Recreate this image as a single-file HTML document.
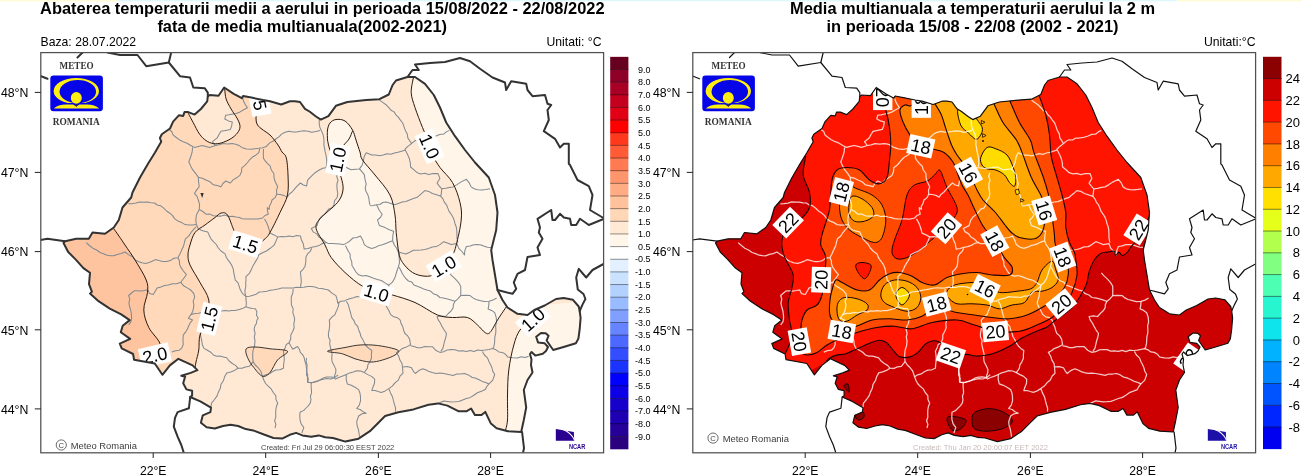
<!DOCTYPE html>
<html><head><meta charset="utf-8"><title>Meteo Romania</title>
<style>
html,body{margin:0;padding:0;background:#fff;}
body{width:1302px;height:476px;overflow:hidden;position:relative;font-family:"Liberation Sans",sans-serif;}
svg{position:absolute;left:0;top:0;will-change:transform;}
text{font-family:"Liberation Sans",sans-serif;}
.ser{font-family:"Liberation Serif",serif;font-weight:bold;}
</style></head><body>
<svg width="1302" height="476" viewBox="0 0 1302 476">
<defs>
<clipPath id="ro"><path d="M207.8,96.3 L209.7,95.0 L218.5,95.7 L224.2,87.5 L233.7,93.8 L241.9,98.2 L243.1,96.0 L251.3,97.6 L263.0,100.0 L270.0,101.2 L281.2,104.5 L290.0,101.2 L295.0,101.2 L300.0,102.0 L305.0,108.8 L309.5,111.5 L316.0,116.5 L320.8,119.6 L328.4,116.2 L335.9,105.8 L347.3,102.0 L366.2,100.1 L379.4,99.2 L388.8,94.5 L392.6,85.0 L396.0,80.5 L407.5,77.0 L415.0,77.0 L425.0,83.8 L433.8,95.0 L440.0,107.5 L446.2,122.5 L455.0,136.2 L465.0,150.0 L475.0,162.5 L488.8,177.5 L495.0,195.0 L497.5,212.5 L496.2,230.0 L491.2,250.0 L492.5,260.0 L495.0,275.0 L497.5,290.0 L502.5,300.0 L507.5,307.5 L517.5,313.8 L527.5,315.0 L534.3,310.0 L544.7,305.5 L556.0,299.0 L563.6,298.0 L573.0,299.8 L578.7,306.5 L579.7,311.0 L580.6,317.8 L579.7,329.0 L578.4,338.6 L575.9,343.3 L563.6,347.0 L553.2,350.0 L550.4,346.0 L546.6,340.5 L548.5,335.8 L545.7,333.3 L541.0,333.0 L536.2,336.7 L538.0,342.4 L544.7,343.3 L548.0,347.0 L546.0,351.0 L542.8,353.7 L535.3,355.6 L531.5,352.0 L530.0,354.0 L531.5,359.4 L531.0,365.0 L532.5,372.5 L527.5,380.0 L523.8,390.0 L526.2,407.5 L523.8,420.0 L521.2,432.0 L507.9,431.2 L496.6,428.3 L490.9,423.6 L485.3,411.9 L481.5,415.1 L474.9,415.1 L471.1,408.5 L466.4,411.3 L458.8,411.3 L447.4,405.6 L438.0,403.4 L428.5,404.7 L413.4,409.4 L398.3,412.3 L385.1,416.0 L379.4,421.7 L369.9,431.2 L358.6,438.7 L345.4,441.6 L333.0,438.0 L325.1,437.3 L318.8,435.4 L311.2,436.7 L302.4,435.4 L296.1,432.9 L289.8,434.8 L282.2,438.6 L273.4,438.0 L263.3,434.2 L253.2,430.4 L245.7,429.1 L238.1,426.0 L230.5,424.7 L223.0,426.0 L214.8,428.5 L206.6,427.2 L200.9,422.8 L202.8,415.3 L210.4,412.1 L211.0,407.7 L200.3,401.4 L190.2,397.0 L192.1,395.7 L192.1,390.7 L186.4,389.4 L183.2,383.3 L185.1,376.7 L181.3,375.8 L190.7,372.9 L197.4,370.1 L192.6,365.4 L178.4,358.8 L169.9,365.4 L162.4,374.8 L154.8,363.5 L134.0,359.7 L133.1,354.0 L121.7,348.4 L119.8,343.6 L130.2,338.9 L120.8,332.3 L122.7,325.7 L129.7,320.1 L121.2,314.4 L109.8,308.7 L98.5,301.2 L90.0,293.6 L91.9,291.7 L89.0,284.1 L90.0,272.8 L83.4,268.1 L75.8,259.6 L68.2,252.0 L63.5,243.0 L65.0,241.2 L76.2,238.8 L88.8,238.8 L92.5,232.5 L105.0,233.8 L113.8,227.5 L118.8,220.0 L122.5,207.5 L131.2,197.5 L132.5,192.5 L140.0,177.5 L148.0,163.8 L155.0,152.5 L159.3,145.0 L161.2,141.7 L159.9,138.0 L161.8,134.2 L170.0,128.5 L173.1,121.6 L178.8,115.3 L183.2,115.9 L184.5,112.1 L188.3,112.1 L194.6,114.6 L200.9,109.0 L207.2,101.4Z"/></clipPath>
<clipPath id="fr"><rect x="40.8" y="52.6" width="562.8000000000001" height="400.2"/></clipPath>
</defs>
<rect x="0" y="0" width="1302" height="476" fill="#ffffff"/>
<rect x="0" y="0" width="118" height="1.3" fill="#fffbd2"/>
<rect x="1177" y="0" width="125" height="1.3" fill="#fffbd2"/>
<rect x="118" y="0" width="1059" height="1.3" fill="#e0f7fb"/>
<g transform="translate(0,0)">
<g clip-path="url(#fr)">
<g clip-path="url(#ro)">
<rect x="30" y="50" width="590" height="410" fill="#ffe9d4"/>
<path d="M257.0,98.0 C256.9,100.4 256.2,108.0 256.2,112.5 C256.3,117.0 255.2,121.2 257.5,125.0 C259.8,128.8 266.6,131.7 270.0,135.0 C273.4,138.3 276.0,142.2 278.0,145.0 C280.0,147.8 280.6,149.9 282.0,152.0 C283.4,154.1 285.2,153.7 286.2,157.5 C287.2,161.3 287.8,168.8 288.0,175.0 C288.2,181.2 288.8,188.8 287.5,195.0 C286.2,201.2 282.9,206.2 280.0,212.5 C277.1,218.8 272.5,228.1 270.0,232.5 C267.5,236.9 267.5,236.5 265.0,238.8 C262.5,241.0 258.3,245.1 255.0,246.0 C251.7,246.9 247.8,245.5 245.0,244.0 C242.2,242.5 239.9,239.3 238.0,237.0 C236.1,234.7 235.5,233.7 233.8,230.0 C232.0,226.3 229.6,217.8 227.5,215.0 C225.4,212.2 223.3,212.6 221.2,213.0 C219.2,213.4 217.7,215.5 215.0,217.5 C212.3,219.5 208.3,222.5 205.0,225.0 C201.7,227.5 197.5,229.2 195.0,232.5 C192.5,235.8 191.2,241.2 190.0,245.0 C188.8,248.8 188.0,251.7 188.0,255.0 C188.0,258.3 188.0,260.4 190.0,265.0 C192.0,269.6 196.9,276.7 200.0,282.5 C203.1,288.3 207.6,293.8 208.8,300.0 C209.9,306.2 208.5,314.2 207.0,320.0 C205.5,325.8 201.4,330.0 200.0,335.0 C198.6,340.0 199.4,345.5 198.8,350.0 C198.1,354.5 196.6,359.0 196.0,362.0 C195.4,365.0 195.2,367.0 195.0,368.0 L191.0,369.0 L150.0,386.0 L30.0,400.0 L30.0,60.0 L257.0,60.0Z" fill="#ffd9b9"/>
<path d="M186.0,110.0 C186.4,110.6 187.1,111.3 188.3,113.4 C189.5,115.5 191.4,119.3 193.3,122.8 C195.2,126.3 197.5,131.2 199.6,134.2 C201.7,137.1 203.6,138.9 205.9,140.5 C208.2,142.1 211.0,143.2 213.5,143.6 C216.0,144.0 218.2,143.8 221.1,143.0 C224.0,142.2 228.4,140.3 231.1,138.6 C233.8,136.9 236.0,134.9 237.5,132.9 C239.0,130.9 240.0,128.9 240.0,126.6 C240.0,124.3 239.0,121.9 237.5,119.0 C236.0,116.1 233.0,112.3 231.1,109.0 C229.2,105.7 227.1,102.1 226.1,98.9 C225.1,95.7 225.1,92.3 224.8,90.0 C224.5,87.7 224.6,85.8 224.5,85.0 L224.0,70.0 L170.0,70.0 L170.0,111.0Z" fill="#ffe9d4"/>
<path d="M110.0,226.0 C110.6,226.5 111.2,225.6 113.8,228.8 C116.2,231.9 121.5,239.8 125.0,245.0 C128.5,250.2 131.5,254.2 135.0,260.0 C138.5,265.8 144.2,274.6 146.2,280.0 C148.3,285.4 147.9,287.5 147.5,292.5 C147.1,297.5 143.5,304.2 143.8,310.0 C144.0,315.8 146.0,321.9 148.8,327.5 C151.5,333.1 158.8,339.2 160.0,343.8 C161.2,348.3 157.7,351.3 156.0,355.0 C154.3,358.7 151.0,364.2 150.0,366.0 L150.0,400.0 L30.0,400.0 L30.0,226.0Z" fill="#fec49f"/>
<path d="M327.5,140.0 C327.5,138.3 327.1,132.8 327.5,130.0 C327.9,127.2 328.6,124.8 330.0,123.0 C331.4,121.2 333.5,119.8 336.0,119.5 C338.5,119.2 342.2,119.2 345.0,121.0 C347.8,122.8 350.7,126.8 352.5,130.0 C354.3,133.2 354.8,136.3 356.0,140.0 C357.2,143.7 358.9,148.7 360.0,152.0 C361.1,155.3 360.0,156.2 362.5,160.0 C365.0,163.8 370.4,169.2 375.0,175.0 C379.6,180.8 386.7,188.3 390.0,195.0 C393.3,201.7 394.0,208.8 395.0,215.0 C396.0,221.2 395.6,226.2 396.2,232.5 C396.9,238.8 397.7,247.5 398.8,252.5 C399.8,257.5 400.2,259.2 402.5,262.5 C404.8,265.8 408.8,270.2 412.5,272.5 C416.2,274.8 421.2,276.0 425.0,276.2 C428.8,276.5 431.7,275.9 435.0,274.0 C438.3,272.1 442.1,268.2 445.0,265.0 C447.9,261.8 450.6,258.3 452.5,255.0 C454.4,251.7 454.8,250.8 456.2,245.0 C457.7,239.2 460.6,227.1 461.2,220.0 C461.9,212.9 461.5,208.8 460.0,202.5 C458.5,196.2 455.8,188.3 452.5,182.5 C449.2,176.7 443.3,172.1 440.0,167.5 C436.7,162.9 434.2,158.8 432.5,155.0 C430.8,151.2 431.7,149.6 430.0,145.0 C428.3,140.4 425.0,133.8 422.5,127.5 C420.0,121.2 416.9,113.3 415.0,107.5 C413.1,101.7 411.5,97.8 411.2,92.5 C411.0,87.2 413.3,78.8 413.8,76.0 L420.0,60.0 L530.0,60.0 L530.0,300.0 L508.0,304.0 C507.5,304.8 506.8,306.1 505.0,308.8 C503.2,311.4 500.0,316.0 497.5,320.0 C495.0,324.0 492.1,330.4 490.0,332.5 C487.9,334.6 487.1,333.8 485.0,332.5 C482.9,331.2 480.4,327.5 477.5,325.0 C474.6,322.5 471.7,318.8 467.5,317.5 C463.3,316.2 457.5,317.9 452.5,317.5 C447.5,317.1 443.8,317.5 437.5,315.0 C431.2,312.5 422.5,305.8 415.0,302.5 C407.5,299.2 398.8,296.9 392.5,295.0 C386.2,293.1 382.5,292.5 377.5,291.0 C372.5,289.5 367.9,289.3 362.5,286.2 C357.1,283.2 350.2,277.3 345.0,272.5 C339.8,267.7 334.6,262.1 331.2,257.5 C327.9,252.9 327.5,249.8 325.0,245.0 C322.5,240.2 317.1,233.1 316.2,228.8 C315.4,224.4 316.5,223.1 320.0,218.8 C323.5,214.4 333.7,207.3 337.5,202.5 C341.3,197.7 342.4,194.2 343.0,190.0 C343.6,185.8 342.2,181.7 341.2,177.5 C340.2,173.3 338.9,169.6 337.0,165.0 C335.1,160.4 331.6,154.2 330.0,150.0 C328.4,145.8 327.9,141.7 327.5,140.0Z" fill="#fff5e9"/>
<path d="M542.0,305.0 C540.2,307.5 534.7,315.8 531.0,320.0 C527.3,324.2 522.9,325.8 520.0,330.0 C517.1,334.2 515.6,338.3 513.8,345.0 C511.9,351.7 509.8,361.7 508.8,370.0 C507.7,378.3 507.7,386.7 507.5,395.0 C507.3,403.3 507.9,413.8 507.5,420.0 C507.1,426.2 505.4,430.0 505.0,432.0 L505.0,450.0 L600.0,450.0 L600.0,300.0Z" fill="#fff5e9"/>
<path d="M246.2,348.8 C247.5,347.0 251.0,347.0 255.0,347.0 C259.0,347.0 264.6,348.0 270.0,348.8 C275.4,349.5 286.2,349.4 287.5,351.2 C288.8,353.1 280.4,356.5 277.5,360.0 C274.6,363.5 272.5,369.8 270.0,372.5 C267.5,375.2 265.2,377.1 262.5,376.2 C259.8,375.4 256.2,370.6 253.8,367.5 C251.2,364.4 248.8,360.6 247.5,357.5 C246.2,354.4 245.0,350.5 246.2,348.8Z" fill="#ffd9b9"/>
<path d="M327.5,351.2 C327.9,350.2 339.6,348.5 345.0,347.5 C350.4,346.5 354.6,345.3 360.0,345.0 C365.4,344.7 371.2,344.7 377.5,345.5 C383.8,346.3 394.6,348.4 397.5,350.0 C400.4,351.6 397.5,353.3 395.0,355.0 C392.5,356.7 386.7,358.8 382.5,360.0 C378.3,361.2 374.6,362.2 370.0,362.0 C365.4,361.8 359.6,360.1 355.0,358.8 C350.4,357.4 347.1,355.0 342.5,353.8 C337.9,352.5 327.1,352.3 327.5,351.2Z" fill="#ffd9b9"/>
<path d="M242.7,98.2 L243.7,101.6 L245.4,104.7 L247.4,107.7 L243.7,109.7 L240.1,111.9 L236.1,113.4 L232.6,114.0 L229.2,114.8 L225.7,115.2 L224.8,119.0 L228.4,120.9 L232.3,121.9 L231.7,125.7 L230.4,129.4 L225.7,130.4 L221.0,131.3 L219.0,134.5 L217.2,137.9 L212.5,141.7 L215.3,145.5" fill="none" stroke="#808a92" stroke-width="1.05" stroke-linejoin="round"/>
<path d="M169.0,129.4 L171.7,131.5 L173.0,134.9 L175.6,137.0 L179.2,139.7 L183.2,141.7 L187.1,143.2 L190.7,145.5 L194.5,147.4 L198.3,146.4 L202.1,145.5 L205.9,146.4 L209.6,147.4 L215.3,145.5 L219.2,144.8 L222.9,143.6 L227.6,144.1 L232.3,143.6 L235.7,144.2 L238.9,145.4 L241.8,147.4 L246.4,148.9 L251.2,149.3 L255.0,148.7 L258.8,148.3 L262.7,147.8 L266.4,146.4 L269.6,142.9 L273.9,140.8 L276.4,138.5 L279.2,136.6 L281.5,134.1 L285.1,132.3 L289.0,131.3 L292.8,132.1 L296.6,132.0 L300.4,131.3 L304.2,130.8 L308.0,131.2 L311.7,132.3 L316.0,131.4 L320.2,130.4" fill="none" stroke="#808a92" stroke-width="1.05" stroke-linejoin="round"/>
<path d="M319.3,120.0 L319.2,123.6 L319.8,127.1 L321.2,130.4 L322.9,134.0 L323.8,137.8 L324.0,141.7 L323.9,145.1 L324.6,148.4 L325.1,151.7 L325.9,155.0 L326.7,159.7 L326.8,164.4 L325.9,167.8 L322.7,168.2 L318.8,170.3 L315.1,172.7 L312.5,175.1 L310.0,177.6 L307.6,180.2 L306.6,185.9 L303.3,185.0 L300.4,183.0 L296.6,186.7 L294.3,189.4 L292.0,192.0 L289.2,194.2 L287.1,197.1 L283.9,195.4 L280.4,194.5 L276.7,194.3" fill="none" stroke="#808a92" stroke-width="1.05" stroke-linejoin="round"/>
<path d="M192.6,147.4 L192.1,152.2 L190.7,156.8 L188.8,162.0 L190.6,165.9 L192.6,169.7 L195.6,173.4 L198.3,177.3 L198.6,182.0 L199.2,186.7 L196.7,189.9 L194.5,193.3 L197.0,196.3 L198.3,200.0 L199.6,204.7 L199.2,209.5 L196.4,215.1 L195.8,219.8 L196.4,224.6 L198.3,228.4" fill="none" stroke="#808a92" stroke-width="1.05" stroke-linejoin="round"/>
<path d="M198.3,177.3 L202.3,178.2 L205.9,180.0 L210.0,181.8 L213.4,184.8 L217.2,185.6 L221.0,186.7 L222.9,183.5 L225.7,181.0 L230.4,183.0 L233.1,179.9 L236.6,177.8 L239.9,175.4 L241.5,171.8 L241.8,167.8 L244.7,165.6 L247.1,163.0 L249.3,160.2 L252.2,157.3 L255.7,155.2 L258.8,152.7 L259.7,148.9" fill="none" stroke="#808a92" stroke-width="1.05" stroke-linejoin="round"/>
<path d="M263.5,148.9 L263.3,153.7 L263.5,158.4 L265.4,161.2 L267.5,163.7 L270.1,165.9 L271.3,170.0 L273.9,173.5 L274.0,177.3 L274.9,181.0 L277.7,186.7 L276.5,190.4 L276.7,194.3 L275.0,197.7 L272.0,200.0 L271.1,203.2 L269.4,206.1 L269.2,209.4 L267.3,207.6 L267.5,210.9 L268.2,214.2 L265.0,215.5 L262.6,218.0 L257.9,219.1 L253.1,218.9 L249.3,219.0 L245.6,218.9 L242.3,218.7 L239.3,217.6 L236.1,217.0 L232.4,216.2 L228.4,216.5 L224.8,215.1 L221.1,216.1 L217.2,216.1 L213.4,215.8 L209.8,214.1 L205.9,214.2 L202.8,211.5 L199.2,209.5" fill="none" stroke="#808a92" stroke-width="1.05" stroke-linejoin="round"/>
<path d="M128.4,203.8 L132.2,203.7 L136.0,203.1 L139.7,201.9 L143.5,202.2 L147.3,202.1 L151.0,202.8 L154.4,203.0 L157.3,205.0 L160.5,205.7 L163.7,208.2 L166.5,211.0 L169.9,213.2 L172.6,215.6 L174.6,218.6 L177.5,220.8 L181.5,222.4 L185.1,224.6 L188.9,225.1 L192.6,225.0 L196.4,224.6" fill="none" stroke="#808a92" stroke-width="1.05" stroke-linejoin="round"/>
<path d="M379.4,100.1 L382.7,102.4 L386.0,104.7 L388.8,107.7 L391.0,110.2 L394.1,111.9 L395.9,114.8 L398.3,117.1 L400.4,120.1 L402.7,123.0 L404.0,126.6 L405.3,130.4 L407.3,133.9 L407.8,137.9 L409.7,140.7 L411.5,143.6 L407.8,146.4 L404.9,149.3 L407.8,155.0 L409.4,158.8 L410.3,162.8 L410.6,167.0 L414.0,169.8 L417.2,172.7 L420.9,173.9 L424.8,173.3 L428.5,174.6 L433.2,173.6 L438.0,173.6 L439.9,178.4 L437.1,183.1 L439.3,186.1 L441.8,188.8" fill="none" stroke="#808a92" stroke-width="1.05" stroke-linejoin="round"/>
<path d="M411.5,143.6 L414.1,141.3 L417.2,139.8 L420.6,140.0 L423.6,138.0 L427.0,138.0 L431.6,137.3 L436.1,136.0 L439.7,134.4 L443.7,134.1 L446.3,131.9 L449.3,130.4" fill="none" stroke="#808a92" stroke-width="1.05" stroke-linejoin="round"/>
<path d="M404.9,150.2 L401.4,151.2 L398.0,152.3 L394.5,153.0 L390.8,154.3 L386.9,153.7 L383.2,155.0 L379.4,155.8 L375.6,155.0 L371.8,155.0 L366.2,152.8 L364.1,156.8 L363.3,161.3 L362.0,165.4 L359.5,168.9 L355.2,169.3 L351.0,169.8 L345.4,167.0 L341.2,167.3 L337.0,168.0 L333.6,168.7 L330.2,168.1 L326.8,167.8" fill="none" stroke="#808a92" stroke-width="1.05" stroke-linejoin="round"/>
<path d="M441.8,188.8 L445.6,188.3 L449.3,187.4 L453.1,186.9 L457.0,184.6 L460.7,182.1 L466.4,179.3 L469.2,182.8 L471.1,186.9 L474.2,188.8 L477.7,189.7 L481.8,189.9 L485.9,189.4 L490.0,188.8" fill="none" stroke="#808a92" stroke-width="1.05" stroke-linejoin="round"/>
<path d="M441.8,188.8 L441.4,192.6 L440.8,196.3 L436.6,194.8 L432.3,193.5 L428.8,191.4 L424.8,190.6 L422.3,192.9 L419.7,195.1 L417.2,197.3 L413.3,198.6 L409.6,200.1 L406.0,201.6 L402.1,202.0 L398.3,203.4 L394.5,204.8 L390.3,203.2 L386.0,202.0 L382.7,202.5 L379.9,204.5 L376.6,204.8 L373.3,205.6 L369.9,205.8" fill="none" stroke="#808a92" stroke-width="1.05" stroke-linejoin="round"/>
<path d="M359.5,168.9 L361.9,171.7 L364.3,174.6 L365.0,179.4 L366.2,184.0 L365.2,187.8 L365.9,191.3 L367.7,194.4 L368.8,197.8 L369.2,201.3 L369.9,204.8" fill="none" stroke="#808a92" stroke-width="1.05" stroke-linejoin="round"/>
<path d="M440.8,196.3 L443.0,198.9 L444.3,202.1 L446.5,204.8 L447.8,208.1 L449.1,211.4 L451.2,214.3 L453.0,217.2 L454.2,220.4 L455.0,223.7 L456.2,226.7 L456.7,229.9 L456.9,233.2 L457.0,238.0 L457.8,242.7" fill="none" stroke="#808a92" stroke-width="1.05" stroke-linejoin="round"/>
<path d="M376.6,204.8 L379.4,210.5 L382.2,214.3 L380.4,217.5 L377.5,219.9 L379.4,225.6 L385.1,227.6 L389.2,229.8 L393.6,231.3 L392.8,236.0 L392.6,240.8" fill="none" stroke="#808a92" stroke-width="1.05" stroke-linejoin="round"/>
<path d="M337.8,172.7 L336.7,176.4 L338.0,180.3 L336.9,184.0 L337.0,188.8 L337.8,193.5 L337.1,197.5 L334.5,200.8 L334.0,204.8 L332.2,207.8 L328.8,209.1 L326.7,211.7 L324.6,214.3 L321.3,216.7 L318.9,219.9 L317.0,225.6 L311.3,228.5 L313.2,231.9 L316.7,233.9 L318.9,237.0 L322.2,239.0 L325.0,241.7 L328.4,243.6 L332.2,243.5 L336.0,243.7 L339.8,243.9 L343.5,244.6 L347.0,242.9 L350.1,240.7 L352.9,238.0 L356.8,237.5 L360.5,236.1 L362.8,240.2 L364.3,244.6 L367.7,247.1 L371.8,248.4 L375.6,247.2 L379.3,245.4 L383.2,244.6 L386.3,243.3 L389.4,241.9 L392.6,240.8" fill="none" stroke="#808a92" stroke-width="1.05" stroke-linejoin="round"/>
<path d="M264.5,218.9 L266.6,222.6 L268.2,226.5 L269.2,229.8 L270.1,233.1 L274.0,234.9 L277.7,236.9 L275.9,241.2 L273.9,245.4 L270.2,248.3 L266.4,251.0 L262.5,252.7 L258.8,254.8 L257.3,258.8 L255.0,262.4 L253.1,265.6 L251.6,269.0 L249.4,273.3 L245.9,276.6 L246.0,279.9 L245.7,283.2 L245.8,286.5 L245.0,289.8 L245.0,293.2 L245.9,296.4" fill="none" stroke="#808a92" stroke-width="1.05" stroke-linejoin="round"/>
<path d="M277.7,236.9 L281.5,236.6 L285.3,236.8 L289.0,235.9 L292.8,236.7 L296.6,235.5 L300.4,235.9 L301.4,239.9 L303.2,243.5 L304.2,249.1 L308.0,248.5 L311.7,247.3 L315.6,246.6 L319.3,245.4 L322.8,243.3 L326.8,242.5" fill="none" stroke="#808a92" stroke-width="1.05" stroke-linejoin="round"/>
<path d="M311.7,248.2 L310.3,251.3 L307.7,253.7 L306.0,256.7 L305.8,261.5 L305.1,266.2 L303.1,269.3 L300.4,271.8 L300.9,276.5 L301.3,281.3 L300.9,284.7 L300.4,288.0" fill="none" stroke="#808a92" stroke-width="1.05" stroke-linejoin="round"/>
<path d="M196.4,226.5 L193.6,229.4 L191.0,232.5 L188.8,235.9 L185.4,238.8 L184.4,242.5 L183.5,246.3 L181.6,250.1 L179.9,254.0 L177.9,257.7 L173.8,258.2 L170.4,260.6 L166.5,261.5 L162.6,261.5 L158.9,260.6 L155.2,259.6 L152.2,261.2 L149.0,262.4 L145.7,263.4 L141.9,262.8 L138.2,261.5 L134.9,259.6 L132.5,256.7 L128.5,254.6 L124.9,252.0 L121.2,253.6 L117.3,254.4 L113.6,255.8 L110.3,255.7 L107.1,255.2 L104.1,253.9 L100.1,252.5 L96.6,250.0 L92.8,248.2 L89.4,245.5 L86.2,242.6" fill="none" stroke="#808a92" stroke-width="1.05" stroke-linejoin="round"/>
<path d="M198.3,228.4 L201.2,230.3 L204.5,231.2 L207.8,232.1 L209.3,235.5 L210.9,238.8 L213.4,241.6 L216.3,244.5 L218.3,248.0 L221.0,251.0 L225.1,253.9 L226.2,257.1 L227.9,259.9 L229.9,262.4 L231.7,265.2 L233.2,268.9 L233.8,272.8 L234.6,276.6 L235.3,280.2 L238.1,282.9 L239.2,286.4 L240.3,289.8 L242.5,293.6 L245.9,296.4 L246.0,299.9 L246.4,303.3 L245.9,306.8" fill="none" stroke="#808a92" stroke-width="1.05" stroke-linejoin="round"/>
<path d="M177.9,257.7 L179.4,260.7 L179.5,264.1 L180.7,267.1 L183.4,271.0 L186.4,274.7 L183.6,278.5 L180.7,282.3 L176.7,283.7 L172.4,283.7 L168.4,285.1 L164.5,285.5 L160.9,286.9 L157.1,287.9 L155.2,291.2 L153.3,294.5 L149.5,293.6 L147.6,289.8 L144.3,290.5 L141.1,291.1 L137.7,290.8 L134.4,290.8 L131.5,293.0 L128.7,295.5 L129.8,299.2 L128.9,303.1 L129.7,306.8 L130.8,310.5 L131.4,314.3 L131.6,318.2 L130.9,321.9 L128.7,325.0" fill="none" stroke="#808a92" stroke-width="1.05" stroke-linejoin="round"/>
<path d="M180.7,282.3 L183.5,285.7 L187.3,287.9 L191.0,290.3 L193.9,293.6 L194.7,297.4 L193.1,301.1 L193.9,304.9 L193.5,308.2 L192.7,311.4 L191.1,314.4 L194.9,313.4 L198.5,313.3 L201.9,312.4 L205.5,313.0 L209.0,312.0 L212.2,311.3 L215.5,312.2 L218.6,310.9 L221.9,311.1 L225.1,310.6 L228.5,311.1 L231.8,310.5 L235.1,310.6 L238.4,309.7 L242.3,308.6 L245.9,306.8" fill="none" stroke="#808a92" stroke-width="1.05" stroke-linejoin="round"/>
<path d="M245.9,296.4 L249.5,296.2 L252.9,295.3 L256.3,294.2 L259.3,292.0 L262.9,291.7 L266.7,291.2 L270.5,290.2 L274.3,289.7 L278.1,288.9 L281.8,288.0 L285.6,287.9 L289.4,288.1 L293.2,287.9 L296.6,287.2 L300.0,287.5 L303.8,287.3 L307.5,286.5 L311.3,286.5 L315.1,287.1 L318.3,288.2 L321.8,288.4 L325.1,289.3 L328.4,290.0 L331.9,293.1 L335.9,295.6 L337.1,299.3 L337.8,303.2 L340.7,301.2 L344.3,301.1 L347.3,299.4 L350.5,298.6 L353.6,297.8 L356.7,296.6 L360.8,297.0 L365.0,297.0 L368.7,297.5 L372.3,296.1 L376.0,296.0 L378.8,294.4 L381.0,291.9 L383.8,290.2 L386.4,288.4 L388.8,286.2" fill="none" stroke="#808a92" stroke-width="1.05" stroke-linejoin="round"/>
<path d="M245.9,306.8 L249.0,307.8 L252.1,308.6 L255.4,308.7 L256.9,311.7 L256.5,315.3 L258.2,318.2 L256.9,320.0 L256.5,323.3 L254.8,326.3 L254.1,329.5 L255.1,333.2 L254.3,337.1 L255.0,340.8 L254.6,345.6 L253.1,350.2 L252.7,354.0 L252.7,357.8 L253.1,361.6 L255.3,365.0 L258.2,367.8 L260.7,371.0 L262.6,376.7 L263.9,380.2 L265.6,383.5 L268.2,386.2 L271.2,388.9 L273.2,392.5 L275.8,395.6 L276.0,399.6 L277.7,403.2 L276.4,406.5 L275.8,410.0 L275.7,413.6 L275.8,417.2 L274.6,420.8 L275.9,424.4 L275.0,428.0" fill="none" stroke="#808a92" stroke-width="1.05" stroke-linejoin="round"/>
<path d="M293.2,288.9 L292.8,293.0 L291.2,297.0 L291.3,301.2 L291.4,305.1 L293.2,308.7 L292.8,312.6 L294.1,316.3 L294.7,320.0 L293.8,323.7 L294.2,327.7 L292.8,331.3 L290.8,334.9 L290.7,339.0 L289.0,342.7 L286.2,344.6 L285.1,348.0 L283.4,351.2 L284.0,355.4 L284.3,359.7 L283.7,363.9 L283.4,368.2 L279.8,369.8 L275.8,370.1 L272.3,371.7 L269.2,373.9 L265.7,374.8 L262.6,376.7" fill="none" stroke="#808a92" stroke-width="1.05" stroke-linejoin="round"/>
<path d="M191.1,314.4 L188.3,318.2 L192.6,320.0 L190.4,322.6 L188.8,325.7 L187.4,329.1 L185.5,332.2 L183.2,335.1 L183.0,339.9 L183.2,344.6 L181.9,347.8 L179.4,350.2 L175.5,350.7 L171.8,352.1" fill="none" stroke="#808a92" stroke-width="1.05" stroke-linejoin="round"/>
<path d="M200.2,333.2 L200.9,337.1 L201.8,340.9 L202.3,344.8 L204.0,348.4 L207.4,350.2 L210.7,352.2 L213.4,355.0 L216.6,356.2 L220.1,356.1 L223.4,356.9 L226.7,357.8 L229.1,361.0 L232.3,363.5 L235.5,365.4 L238.0,368.2 L241.9,368.3 L245.5,366.9 L249.3,366.3 L253.1,361.6" fill="none" stroke="#808a92" stroke-width="1.05" stroke-linejoin="round"/>
<path d="M238.0,368.2 L234.5,370.4 L230.7,371.9 L226.7,372.9 L224.7,376.6 L223.4,380.7 L221.0,384.3 L220.3,388.3 L218.5,391.9 L217.2,395.6 L214.5,399.5 L211.5,403.2 L211.0,406.7 L209.6,410.0" fill="none" stroke="#808a92" stroke-width="1.05" stroke-linejoin="round"/>
<path d="M289.0,342.7 L290.8,346.0 L292.8,349.3 L297.5,346.5 L299.4,349.2 L300.3,352.4 L302.8,354.8 L304.2,357.8 L304.9,361.1 L305.9,364.3 L306.4,367.7 L307.0,371.0 L306.5,374.9 L308.3,378.5 L307.9,382.4 L313.6,382.4 L316.9,381.4 L320.1,380.1 L323.4,379.3 L326.8,378.6 L330.7,379.0 L334.4,377.7 L338.2,374.8" fill="none" stroke="#808a92" stroke-width="1.05" stroke-linejoin="round"/>
<path d="M311.3,383.0 L311.1,386.3 L311.4,389.6 L311.6,392.9 L310.4,396.2 L311.0,399.5 L310.4,402.8 L308.5,405.6 L306.1,408.0 L303.8,410.4 L300.0,412.3 L299.8,416.1 L300.0,419.8 L301.2,424.0 L303.8,427.4 L301.9,433.0" fill="none" stroke="#808a92" stroke-width="1.05" stroke-linejoin="round"/>
<path d="M338.8,302.3 L338.6,305.6 L337.5,308.6 L336.1,311.6 L335.0,314.6 L331.9,317.2 L329.3,320.2 L329.7,323.6 L329.5,326.9 L329.1,330.2 L328.4,333.5 L328.5,337.0 L330.1,340.2 L329.7,343.8 L330.4,347.1 L331.2,350.5 L332.1,354.2 L331.7,358.0 L332.1,361.8 L334.1,365.6 L335.9,369.4 L335.7,372.7 L334.5,375.9 L335.0,379.2" fill="none" stroke="#808a92" stroke-width="1.05" stroke-linejoin="round"/>
<path d="M346.3,301.3 L348.2,304.4 L349.1,307.8 L350.1,311.2 L351.0,314.6 L351.9,317.9 L354.0,320.6 L355.2,323.8 L357.7,326.4 L358.6,329.7 L360.0,333.0 L360.9,336.5 L362.8,339.6 L364.3,342.9 L366.3,346.0 L368.8,348.4 L371.8,350.5 L371.4,354.3 L371.4,358.2 L369.9,361.8 L367.9,364.8 L367.3,368.4 L365.2,371.3 L364.3,372.6" fill="none" stroke="#808a92" stroke-width="1.05" stroke-linejoin="round"/>
<path d="M345.4,245.5 L346.9,248.4 L348.3,251.3 L350.1,254.0 L350.2,257.9 L351.7,261.5 L352.0,265.4 L354.0,268.7 L355.9,272.0 L358.6,274.8 L362.3,276.1 L366.2,275.5 L369.9,276.7 L373.6,278.2 L377.4,279.4 L381.3,280.5 L385.0,282.9 L388.8,285.2 L392.2,282.4 L394.5,278.6 L395.8,274.8 L396.9,271.0 L398.3,267.3 L399.5,262.6 L399.2,257.8 L398.3,252.1 L396.6,248.2 L394.2,244.7 L392.6,240.8" fill="none" stroke="#808a92" stroke-width="1.05" stroke-linejoin="round"/>
<path d="M398.3,252.1 L402.1,253.1 L405.9,254.0 L409.7,252.2 L413.4,250.2 L417.2,250.3 L421.0,250.0 L424.8,249.5 L428.5,248.4 L432.2,246.9 L436.3,246.6 L439.9,244.6 L443.7,241.7 L447.5,243.0 L451.2,244.6 L456.9,243.6 L458.8,248.4 L461.9,251.5 L464.5,255.0 L464.8,250.6 L466.4,246.5 L470.2,245.9 L473.8,244.7 L477.7,244.6 L481.1,244.9 L484.3,246.2 L487.5,247.2 L490.9,247.4" fill="none" stroke="#808a92" stroke-width="1.05" stroke-linejoin="round"/>
<path d="M399.2,267.3 L400.8,270.2 L402.2,273.2 L403.9,276.0 L405.9,278.6 L408.4,281.0 L411.8,282.1 L413.9,285.0 L417.2,286.2 L420.5,287.5 L423.7,288.9 L427.0,290.1 L430.4,290.9 L433.2,293.7 L437.0,295.0 L439.9,297.5 L444.6,298.2 L449.3,299.4 L455.0,301.3 L458.1,298.7 L460.7,295.6 L460.8,290.9 L460.7,286.2 L458.2,282.1 L455.0,278.6 L452.0,275.9 L449.3,272.9" fill="none" stroke="#808a92" stroke-width="1.05" stroke-linejoin="round"/>
<path d="M460.7,295.6 L465.4,295.3 L470.1,295.6 L472.9,297.9 L476.1,299.5 L479.6,300.4 L484.2,301.6 L489.0,301.3 L493.0,300.1 L496.6,298.0" fill="none" stroke="#808a92" stroke-width="1.05" stroke-linejoin="round"/>
<path d="M455.0,301.3 L453.4,304.4 L453.1,307.9 L451.2,310.8 L448.3,313.5 L445.6,316.5 L441.4,315.9 L437.1,316.5 L438.2,319.9 L440.2,322.8 L441.8,325.9 L444.0,329.8 L446.5,333.5 L445.8,337.3 L444.6,341.0 L443.7,344.8 L442.9,348.4 L440.8,351.4" fill="none" stroke="#808a92" stroke-width="1.05" stroke-linejoin="round"/>
<path d="M385.1,303.2 L386.8,307.1 L388.9,310.7 L390.7,314.6 L393.7,316.8 L397.4,317.7 L400.2,320.2 L401.1,323.6 L402.8,326.8 L403.6,330.2 L404.9,333.5 L407.7,335.9 L409.6,339.1 L410.6,344.8 L406.5,346.9 L402.1,348.6 L399.5,350.8 L396.4,352.4 L398.6,356.0 L399.9,360.1 L402.1,363.7 L402.6,368.4 L403.0,373.2 L400.0,376.2 L398.3,380.1 L395.0,382.8 L392.3,386.1 L388.8,388.6 L390.5,392.9 L392.6,397.1 L393.5,400.9 L394.5,404.7 L395.6,408.0 L395.5,411.5" fill="none" stroke="#808a92" stroke-width="1.05" stroke-linejoin="round"/>
<path d="M388.8,285.2 L388.5,288.9 L387.5,292.4 L387.1,296.1 L386.0,299.6 L385.1,303.2" fill="none" stroke="#808a92" stroke-width="1.05" stroke-linejoin="round"/>
<path d="M410.6,345.8 L414.1,346.4 L417.4,347.7 L421.0,347.7 L424.7,346.6 L428.5,346.7 L432.3,346.7 L435.6,350.2 L439.9,352.4 L443.7,351.7 L447.3,349.9 L451.2,349.5 L455.0,349.7 L458.7,351.1 L462.6,350.8 L466.4,351.4 L470.1,350.4 L474.0,351.6 L477.7,350.1 L481.5,350.5 L485.3,350.1 L489.1,349.4 L492.8,348.6 L496.0,349.8 L498.8,351.9 L502.3,352.4 L505.5,354.3 L507.9,357.1 L512.6,357.8 L517.4,358.1 L521.1,356.8 L525.1,357.6 L528.7,356.2" fill="none" stroke="#808a92" stroke-width="1.05" stroke-linejoin="round"/>
<path d="M489.0,301.3 L488.8,305.1 L488.1,308.9 L491.6,310.4 L494.7,312.7 L496.2,317.3 L496.6,322.1 L495.6,325.8 L495.9,329.7 L495.7,333.5 L494.9,336.8 L494.7,340.1 L494.5,343.4 L493.8,346.7 L492.8,348.6" fill="none" stroke="#808a92" stroke-width="1.05" stroke-linejoin="round"/>
<path d="M482.4,351.4 L484.4,355.0 L487.5,357.9 L489.0,361.8 L490.6,364.8 L492.0,368.0 L492.8,371.3 L494.7,374.5 L492.8,380.1 L489.0,383.9 L486.8,386.5 L485.3,389.6 L481.4,391.2 L477.4,392.7 L473.9,395.2 L470.4,397.4 L466.4,398.5 L462.6,400.0 L458.9,401.4 L455.1,401.7 L451.2,401.9 L447.5,401.4 L443.7,400.9 L438.0,403.4" fill="none" stroke="#808a92" stroke-width="1.05" stroke-linejoin="round"/>
<path d="M403.0,366.9 L407.3,366.6 L411.5,367.8 L413.1,370.8 L415.3,373.5 L418.8,370.6 L422.9,368.8 L426.1,370.0 L429.1,371.6 L432.3,372.6 L436.1,373.4 L439.9,373.1 L443.7,373.5 L448.4,374.4 L453.1,375.4 L456.8,374.0 L460.7,374.0 L464.5,373.5 L468.3,374.9 L471.8,377.2 L475.8,378.2 L479.1,379.7 L482.2,381.4 L485.7,382.4 L489.0,383.9" fill="none" stroke="#808a92" stroke-width="1.05" stroke-linejoin="round"/>
<path d="M335.0,379.2 L338.7,377.5 L342.6,376.1 L346.3,374.5 L346.2,379.3 L347.3,383.9 L351.3,385.3 L355.0,387.3 L358.6,389.6 L360.0,393.2 L360.5,397.0 L360.5,400.9 L359.3,405.1 L356.7,408.5 L360.1,409.5 L363.0,411.7 L366.2,413.2 L362.1,413.8 L358.6,416.0 L356.7,421.7 L357.1,425.5 L358.3,429.2 L359.0,433.0 L359.5,436.8" fill="none" stroke="#808a92" stroke-width="1.05" stroke-linejoin="round"/>
<path d="M346.3,374.5 L349.6,372.9 L353.2,371.9 L356.7,370.7 L360.7,371.0 L364.3,372.6 L367.9,374.6 L371.6,376.4 L374.7,379.2 L374.5,383.2 L373.1,386.8 L371.8,390.5 L375.1,390.5 L378.2,391.5 L381.3,392.4 L385.2,390.9 L388.8,388.6" fill="none" stroke="#808a92" stroke-width="1.05" stroke-linejoin="round"/>
<path d="M306.6,358.0 L306.1,361.5 L307.1,364.9 L306.9,368.3 L306.6,371.7 L307.8,375.1 L307.4,378.6 L307.6,382.0 L311.3,383.0 L315.2,381.5 L319.2,380.5 L322.7,378.2 L326.4,377.1 L330.2,376.9 L334.0,377.3" fill="none" stroke="#808a92" stroke-width="1.05" stroke-linejoin="round"/>
<path d="M257.0,98.0 C256.9,100.4 256.2,108.0 256.2,112.5 C256.3,117.0 255.2,121.2 257.5,125.0 C259.8,128.8 266.6,131.7 270.0,135.0 C273.4,138.3 276.0,142.2 278.0,145.0 C280.0,147.8 280.6,149.9 282.0,152.0 C283.4,154.1 285.2,153.7 286.2,157.5 C287.2,161.3 287.8,168.8 288.0,175.0 C288.2,181.2 288.8,188.8 287.5,195.0 C286.2,201.2 282.9,206.2 280.0,212.5 C277.1,218.8 272.5,228.1 270.0,232.5 C267.5,236.9 267.5,236.5 265.0,238.8 C262.5,241.0 258.3,245.1 255.0,246.0 C251.7,246.9 247.8,245.5 245.0,244.0 C242.2,242.5 239.9,239.3 238.0,237.0 C236.1,234.7 235.5,233.7 233.8,230.0 C232.0,226.3 229.6,217.8 227.5,215.0 C225.4,212.2 223.3,212.6 221.2,213.0 C219.2,213.4 217.7,215.5 215.0,217.5 C212.3,219.5 208.3,222.5 205.0,225.0 C201.7,227.5 197.5,229.2 195.0,232.5 C192.5,235.8 191.2,241.2 190.0,245.0 C188.8,248.8 188.0,251.7 188.0,255.0 C188.0,258.3 188.0,260.4 190.0,265.0 C192.0,269.6 196.9,276.7 200.0,282.5 C203.1,288.3 207.6,293.8 208.8,300.0 C209.9,306.2 208.5,314.2 207.0,320.0 C205.5,325.8 201.4,330.0 200.0,335.0 C198.6,340.0 199.4,345.5 198.8,350.0 C198.1,354.5 196.6,359.0 196.0,362.0 C195.4,365.0 195.2,367.0 195.0,368.0" fill="none" stroke="#2a1a10" stroke-width="1.0"/>
<path d="M186.0,110.0 C186.4,110.6 187.1,111.3 188.3,113.4 C189.5,115.5 191.4,119.3 193.3,122.8 C195.2,126.3 197.5,131.2 199.6,134.2 C201.7,137.1 203.6,138.9 205.9,140.5 C208.2,142.1 211.0,143.2 213.5,143.6 C216.0,144.0 218.2,143.8 221.1,143.0 C224.0,142.2 228.4,140.3 231.1,138.6 C233.8,136.9 236.0,134.9 237.5,132.9 C239.0,130.9 240.0,128.9 240.0,126.6 C240.0,124.3 239.0,121.9 237.5,119.0 C236.0,116.1 233.0,112.3 231.1,109.0 C229.2,105.7 227.1,102.1 226.1,98.9 C225.1,95.7 225.1,92.3 224.8,90.0 C224.5,87.7 224.6,85.8 224.5,85.0" fill="none" stroke="#2a1a10" stroke-width="1.0"/>
<path d="M110.0,226.0 C110.6,226.5 111.2,225.6 113.8,228.8 C116.2,231.9 121.5,239.8 125.0,245.0 C128.5,250.2 131.5,254.2 135.0,260.0 C138.5,265.8 144.2,274.6 146.2,280.0 C148.3,285.4 147.9,287.5 147.5,292.5 C147.1,297.5 143.5,304.2 143.8,310.0 C144.0,315.8 146.0,321.9 148.8,327.5 C151.5,333.1 158.8,339.2 160.0,343.8 C161.2,348.3 157.7,351.3 156.0,355.0 C154.3,358.7 151.0,364.2 150.0,366.0" fill="none" stroke="#2a1a10" stroke-width="1.0"/>
<path d="M327.5,140.0 C327.5,138.3 327.1,132.8 327.5,130.0 C327.9,127.2 328.6,124.8 330.0,123.0 C331.4,121.2 333.5,119.8 336.0,119.5 C338.5,119.2 342.2,119.2 345.0,121.0 C347.8,122.8 350.7,126.8 352.5,130.0 C354.3,133.2 354.8,136.3 356.0,140.0 C357.2,143.7 358.9,148.7 360.0,152.0 C361.1,155.3 360.0,156.2 362.5,160.0 C365.0,163.8 370.4,169.2 375.0,175.0 C379.6,180.8 386.7,188.3 390.0,195.0 C393.3,201.7 394.0,208.8 395.0,215.0 C396.0,221.2 395.6,226.2 396.2,232.5 C396.9,238.8 397.7,247.5 398.8,252.5 C399.8,257.5 400.2,259.2 402.5,262.5 C404.8,265.8 408.8,270.2 412.5,272.5 C416.2,274.8 421.2,276.0 425.0,276.2 C428.8,276.5 431.7,275.9 435.0,274.0 C438.3,272.1 442.1,268.2 445.0,265.0 C447.9,261.8 450.6,258.3 452.5,255.0 C454.4,251.7 454.8,250.8 456.2,245.0 C457.7,239.2 460.6,227.1 461.2,220.0 C461.9,212.9 461.5,208.8 460.0,202.5 C458.5,196.2 455.8,188.3 452.5,182.5 C449.2,176.7 443.3,172.1 440.0,167.5 C436.7,162.9 434.2,158.8 432.5,155.0 C430.8,151.2 431.7,149.6 430.0,145.0 C428.3,140.4 425.0,133.8 422.5,127.5 C420.0,121.2 416.9,113.3 415.0,107.5 C413.1,101.7 411.5,97.8 411.2,92.5 C411.0,87.2 413.3,78.8 413.8,76.0" fill="none" stroke="#2a1a10" stroke-width="1.0"/>
<path d="M508.0,304.0 C507.5,304.8 506.8,306.1 505.0,308.8 C503.2,311.4 500.0,316.0 497.5,320.0 C495.0,324.0 492.1,330.4 490.0,332.5 C487.9,334.6 487.1,333.8 485.0,332.5 C482.9,331.2 480.4,327.5 477.5,325.0 C474.6,322.5 471.7,318.8 467.5,317.5 C463.3,316.2 457.5,317.9 452.5,317.5 C447.5,317.1 443.8,317.5 437.5,315.0 C431.2,312.5 422.5,305.8 415.0,302.5 C407.5,299.2 398.8,296.9 392.5,295.0 C386.2,293.1 382.5,292.5 377.5,291.0 C372.5,289.5 367.9,289.3 362.5,286.2 C357.1,283.2 350.2,277.3 345.0,272.5 C339.8,267.7 334.6,262.1 331.2,257.5 C327.9,252.9 327.5,249.8 325.0,245.0 C322.5,240.2 317.1,233.1 316.2,228.8 C315.4,224.4 316.5,223.1 320.0,218.8 C323.5,214.4 333.7,207.3 337.5,202.5 C341.3,197.7 342.4,194.2 343.0,190.0 C343.6,185.8 342.2,181.7 341.2,177.5 C340.2,173.3 338.9,169.6 337.0,165.0 C335.1,160.4 331.6,154.2 330.0,150.0 C328.4,145.8 327.9,141.7 327.5,140.0" fill="none" stroke="#2a1a10" stroke-width="1.0"/>
<path d="M542.0,305.0 C540.2,307.5 534.7,315.8 531.0,320.0 C527.3,324.2 522.9,325.8 520.0,330.0 C517.1,334.2 515.6,338.3 513.8,345.0 C511.9,351.7 509.8,361.7 508.8,370.0 C507.7,378.3 507.7,386.7 507.5,395.0 C507.3,403.3 507.9,413.8 507.5,420.0 C507.1,426.2 505.4,430.0 505.0,432.0" fill="none" stroke="#2a1a10" stroke-width="1.0"/>
<path d="M352.5,131.0 C351.9,132.3 350.5,136.7 349.0,139.0 C347.5,141.3 344.6,144.0 343.8,145.0" fill="none" stroke="#2a1a10" stroke-width="1.0"/>
<path d="M246.2,348.8 C247.5,347.0 251.0,347.0 255.0,347.0 C259.0,347.0 264.6,348.0 270.0,348.8 C275.4,349.5 286.2,349.4 287.5,351.2 C288.8,353.1 280.4,356.5 277.5,360.0 C274.6,363.5 272.5,369.8 270.0,372.5 C267.5,375.2 265.2,377.1 262.5,376.2 C259.8,375.4 256.2,370.6 253.8,367.5 C251.2,364.4 248.8,360.6 247.5,357.5 C246.2,354.4 245.0,350.5 246.2,348.8Z" fill="none" stroke="#222" stroke-width="0.9"/>
<path d="M327.5,351.2 C327.9,350.2 339.6,348.5 345.0,347.5 C350.4,346.5 354.6,345.3 360.0,345.0 C365.4,344.7 371.2,344.7 377.5,345.5 C383.8,346.3 394.6,348.4 397.5,350.0 C400.4,351.6 397.5,353.3 395.0,355.0 C392.5,356.7 386.7,358.8 382.5,360.0 C378.3,361.2 374.6,362.2 370.0,362.0 C365.4,361.8 359.6,360.1 355.0,358.8 C350.4,357.4 347.1,355.0 342.5,353.8 C337.9,352.5 327.1,352.3 327.5,351.2Z" fill="none" stroke="#222" stroke-width="0.9"/>
<path d="M200.4,193 L203.7,193 L202.2,198Z" fill="#333"/>
<g transform="translate(245.5,244.1) rotate(18)"><rect x="-15.3" y="-9.7" width="30.6" height="19.4" fill="#fff"/><text x="0" y="6.4" font-size="18" text-anchor="middle" fill="#000">1.5</text></g>
<g transform="translate(209.3,318.9) rotate(-76)"><rect x="-15.3" y="-9.7" width="30.6" height="19.4" fill="#fff"/><text x="0" y="6.4" font-size="18" text-anchor="middle" fill="#000">1.5</text></g>
<g transform="translate(154.9,355.2) rotate(-13)"><rect x="-15.3" y="-9.7" width="30.6" height="19.4" fill="#fff"/><text x="0" y="6.4" font-size="18" text-anchor="middle" fill="#000">2.0</text></g>
<g transform="translate(376.6,292.8) rotate(17)"><rect x="-15.3" y="-9.7" width="30.6" height="19.4" fill="#fff"/><text x="0" y="6.4" font-size="18" text-anchor="middle" fill="#000">1.0</text></g>
<g transform="translate(443.7,266.3) rotate(-31)"><rect x="-15.3" y="-9.7" width="30.6" height="19.4" fill="#fff"/><text x="0" y="6.4" font-size="18" text-anchor="middle" fill="#000">1.0</text></g>
<g transform="translate(532.9,319.5) rotate(-42)"><rect x="-15.3" y="-9.7" width="30.6" height="19.4" fill="#fff"/><text x="0" y="6.4" font-size="18" text-anchor="middle" fill="#000">1.0</text></g>
<g transform="translate(337.8,159.7) rotate(-78)"><rect x="-15.3" y="-9.7" width="30.6" height="19.4" fill="#fff"/><text x="0" y="6.4" font-size="18" text-anchor="middle" fill="#000">1.0</text></g>
<g transform="translate(429.5,146.4) rotate(66)"><rect x="-15.3" y="-9.7" width="30.6" height="19.4" fill="#fff"/><text x="0" y="6.4" font-size="18" text-anchor="middle" fill="#000">1.0</text></g>
<g transform="translate(258.6,97.8) rotate(79)"><rect x="-17.8" y="-9.7" width="35.6" height="19.4" fill="#fff"/><text x="0" y="6.4" font-size="18" text-anchor="middle" fill="#000">1 5</text></g>
</g>
<path d="M207.8,96.3 L209.7,95.0 L218.5,95.7 L224.2,87.5 L233.7,93.8 L241.9,98.2 L243.1,96.0 L251.3,97.6 L263.0,100.0 L270.0,101.2 L281.2,104.5 L290.0,101.2 L295.0,101.2 L300.0,102.0 L305.0,108.8 L309.5,111.5 L316.0,116.5 L320.8,119.6 L328.4,116.2 L335.9,105.8 L347.3,102.0 L366.2,100.1 L379.4,99.2 L388.8,94.5 L392.6,85.0 L396.0,80.5 L407.5,77.0 L415.0,77.0 L425.0,83.8 L433.8,95.0 L440.0,107.5 L446.2,122.5 L455.0,136.2 L465.0,150.0 L475.0,162.5 L488.8,177.5 L495.0,195.0 L497.5,212.5 L496.2,230.0 L491.2,250.0 L492.5,260.0 L495.0,275.0 L497.5,290.0 L502.5,300.0 L507.5,307.5 L517.5,313.8 L527.5,315.0 L534.3,310.0 L544.7,305.5 L556.0,299.0 L563.6,298.0 L573.0,299.8 L578.7,306.5 L579.7,311.0 L580.6,317.8 L579.7,329.0 L578.4,338.6 L575.9,343.3 L563.6,347.0 L553.2,350.0 L550.4,346.0 L546.6,340.5 L548.5,335.8 L545.7,333.3 L541.0,333.0 L536.2,336.7 L538.0,342.4 L544.7,343.3 L548.0,347.0 L546.0,351.0 L542.8,353.7 L535.3,355.6 L531.5,352.0 L530.0,354.0 L531.5,359.4 L531.0,365.0 L532.5,372.5 L527.5,380.0 L523.8,390.0 L526.2,407.5 L523.8,420.0 L521.2,432.0 L507.9,431.2 L496.6,428.3 L490.9,423.6 L485.3,411.9 L481.5,415.1 L474.9,415.1 L471.1,408.5 L466.4,411.3 L458.8,411.3 L447.4,405.6 L438.0,403.4 L428.5,404.7 L413.4,409.4 L398.3,412.3 L385.1,416.0 L379.4,421.7 L369.9,431.2 L358.6,438.7 L345.4,441.6 L333.0,438.0 L325.1,437.3 L318.8,435.4 L311.2,436.7 L302.4,435.4 L296.1,432.9 L289.8,434.8 L282.2,438.6 L273.4,438.0 L263.3,434.2 L253.2,430.4 L245.7,429.1 L238.1,426.0 L230.5,424.7 L223.0,426.0 L214.8,428.5 L206.6,427.2 L200.9,422.8 L202.8,415.3 L210.4,412.1 L211.0,407.7 L200.3,401.4 L190.2,397.0 L192.1,395.7 L192.1,390.7 L186.4,389.4 L183.2,383.3 L185.1,376.7 L181.3,375.8 L190.7,372.9 L197.4,370.1 L192.6,365.4 L178.4,358.8 L169.9,365.4 L162.4,374.8 L154.8,363.5 L134.0,359.7 L133.1,354.0 L121.7,348.4 L119.8,343.6 L130.2,338.9 L120.8,332.3 L122.7,325.7 L129.7,320.1 L121.2,314.4 L109.8,308.7 L98.5,301.2 L90.0,293.6 L91.9,291.7 L89.0,284.1 L90.0,272.8 L83.4,268.1 L75.8,259.6 L68.2,252.0 L63.5,243.0 L65.0,241.2 L76.2,238.8 L88.8,238.8 L92.5,232.5 L105.0,233.8 L113.8,227.5 L118.8,220.0 L122.5,207.5 L131.2,197.5 L132.5,192.5 L140.0,177.5 L148.0,163.8 L155.0,152.5 L159.3,145.0 L161.2,141.7 L159.9,138.0 L161.8,134.2 L170.0,128.5 L173.1,121.6 L178.8,115.3 L183.2,115.9 L184.5,112.1 L188.3,112.1 L194.6,114.6 L200.9,109.0 L207.2,101.4Z" fill="none" stroke="#333" stroke-width="2.0" stroke-linejoin="round"/>
<path d="M77.5,57.5 L82.5,52.5" fill="none" stroke="#333" stroke-width="2.0" stroke-linejoin="round" stroke-linecap="round"/>
<path d="M40.5,76.0 L47.5,78.8" fill="none" stroke="#333" stroke-width="2.0" stroke-linejoin="round" stroke-linecap="round"/>
<path d="M107.5,52.5 L120.0,55.0 L137.5,55.0 L146.2,66.2 L168.8,62.5 L171.2,52.5" fill="none" stroke="#333" stroke-width="2.0" stroke-linejoin="round" stroke-linecap="round"/>
<path d="M168.8,62.5 L180.0,76.2 L190.0,77.5 L193.3,87.5 L204.7,88.2 L207.8,92.6 L207.8,96.3" fill="none" stroke="#333" stroke-width="2.0" stroke-linejoin="round" stroke-linecap="round"/>
<path d="M65.0,241.2 L47.5,238.8 L40.5,240.0" fill="none" stroke="#333" stroke-width="2.0" stroke-linejoin="round" stroke-linecap="round"/>
<path d="M190.2,397.0 L188.9,408.3 L177.6,412.1 L175.0,417.8 L173.8,426.6 L177.6,436.7 L181.3,445.0 L183.8,452.8" fill="none" stroke="#333" stroke-width="2.0" stroke-linejoin="round" stroke-linecap="round"/>
<path d="M522.1,432.1 L523.1,440.6 L524.0,448.2 L523.0,452.8" fill="none" stroke="#333" stroke-width="2.0" stroke-linejoin="round" stroke-linecap="round"/>
<path d="M407.5,77.0 L412.5,70.0 L418.8,70.0 L415.0,64.5 L430.0,63.0 L445.0,62.0 L460.0,58.0 L470.0,61.2 L480.0,68.8 L492.5,77.5 L505.0,82.5 L506.2,90.0 L511.2,81.2 L526.2,83.8 L527.5,90.0 L532.5,96.2 L545.0,95.0 L547.5,103.8 L551.2,105.0 L547.5,110.0 L548.8,120.0 L543.8,131.2 L555.0,138.8 L560.0,147.5 L563.8,143.8 L568.8,143.8 L568.8,163.8 L570.0,165.0 L577.5,180.0 L588.8,186.2 L592.5,195.0 L590.0,210.0 L603.5,218.0" fill="none" stroke="#333" stroke-width="2.0" stroke-linejoin="round" stroke-linecap="round"/>
<path d="M603.5,219.0 L588.8,225.0 L580.0,218.8 L576.2,225.0 L571.2,225.0 L570.0,218.8 L563.8,217.5 L560.0,213.8 L555.0,220.0 L552.5,220.0 L551.2,210.0 L537.5,218.8 L540.0,227.5 L538.8,232.5 L542.5,238.8 L537.5,247.5 L540.0,255.0 L527.5,257.0 L525.0,270.0 L517.5,273.8 L513.8,282.5 L516.2,288.8 L512.5,293.8 L497.5,290.0" fill="none" stroke="#333" stroke-width="2.0" stroke-linejoin="round" stroke-linecap="round"/>
<path d="M603.5,264.0 L592.5,270.0 L586.2,277.5 L578.8,268.8 L576.2,277.5 L577.8,289.5 L583.5,294.0 L585.4,299.0 L582.5,304.6 L579.7,311.0" fill="none" stroke="#333" stroke-width="2.0" stroke-linejoin="round" stroke-linecap="round"/>
</g>
<rect x="40.8" y="52.6" width="562.8000000000001" height="400.2" fill="none" stroke="#505050" stroke-width="1.25"/>
<line x1="34.8" y1="92.4" x2="40.8" y2="92.4" stroke="#222" stroke-width="1"/>
<text x="28.4" y="97.10000000000001" font-size="12.3" text-anchor="end" fill="#000">48°N</text>
<line x1="34.8" y1="172.4" x2="40.8" y2="172.4" stroke="#222" stroke-width="1"/>
<text x="28.4" y="177.1" font-size="12.3" text-anchor="end" fill="#000">47°N</text>
<line x1="34.8" y1="251.6" x2="40.8" y2="251.6" stroke="#222" stroke-width="1"/>
<text x="28.4" y="256.3" font-size="12.3" text-anchor="end" fill="#000">46°N</text>
<line x1="34.8" y1="329.8" x2="40.8" y2="329.8" stroke="#222" stroke-width="1"/>
<text x="28.4" y="334.5" font-size="12.3" text-anchor="end" fill="#000">45°N</text>
<line x1="34.8" y1="408.9" x2="40.8" y2="408.9" stroke="#222" stroke-width="1"/>
<text x="28.4" y="413.59999999999997" font-size="12.3" text-anchor="end" fill="#000">44°N</text>
<line x1="153.2" y1="452.8" x2="153.2" y2="458.0" stroke="#222" stroke-width="1"/>
<text x="153.2" y="474.6" font-size="12.2" text-anchor="middle" fill="#000">22°E</text>
<line x1="265.7" y1="452.8" x2="265.7" y2="458.0" stroke="#222" stroke-width="1"/>
<text x="265.7" y="474.6" font-size="12.2" text-anchor="middle" fill="#000">24°E</text>
<line x1="378.4" y1="452.8" x2="378.4" y2="458.0" stroke="#222" stroke-width="1"/>
<text x="378.4" y="474.6" font-size="12.2" text-anchor="middle" fill="#000">26°E</text>
<line x1="490.6" y1="452.8" x2="490.6" y2="458.0" stroke="#222" stroke-width="1"/>
<text x="490.6" y="474.6" font-size="12.2" text-anchor="middle" fill="#000">28°E</text>
<text class="ser" x="76.6" y="69.3" font-size="9.6" text-anchor="middle" fill="#333" textLength="34" lengthAdjust="spacingAndGlyphs">METEO</text>
<rect x="50.3" y="75.5" width="52.6" height="35.8" rx="3.2" fill="#0505e8"/>
<path fill-rule="evenodd" fill="#ffee11" d="M53.6,91 a22.7,13 0 1,0 45.4,0 a22.7,13 0 1,0 -45.4,0 Z M59.5,91.6 a18.3,11.6 0 1,0 36.6,0 a18.3,11.6 0 1,0 -36.6,0 Z"/>
<path fill="#0505e8" d="M66,103 L87,103 L87,106 L66,106Z"/>
<path fill="#ffee11" d="M53.8,108.4 Q58,104.6 66,104.6 L73,104.4 L76.3,106.5 L79.6,104.4 L87,104.6 Q95,104.6 99.2,108.4 Z"/>
<ellipse cx="76.3" cy="97.9" rx="5.5" ry="5.9" fill="#ffee11"/>
<path fill="#333" d="M74.8,104.2 L77.8,104.2 L76.3,107.2Z"/>
<text class="ser" x="76.2" y="124.8" font-size="9.6" text-anchor="middle" fill="#333" textLength="47" lengthAdjust="spacingAndGlyphs">ROMANIA</text>
<path fill="#2a0090" d="M555.8,429 L573.8,431.9 L574.3,440.7 L555.8,440.7Z"/>
<path fill="none" stroke="#fff" stroke-width="1.1" d="M562.6,429.2 Q571.5,432.8 574.6,440.2"/>
<text x="577.1" y="449" font-size="6.3" font-weight="bold" text-anchor="middle" fill="#2a0090" textLength="16.4" lengthAdjust="spacingAndGlyphs">NCAR</text>
</g>
<g transform="translate(652,0)">
<g clip-path="url(#fr)">
<g clip-path="url(#ro)">
<rect x="30" y="50" width="590" height="410" fill="#ff1400"/>
<path d="M153.8,156.0 C153.3,159.2 150.6,168.9 151.2,175.0 C151.9,181.1 156.5,187.1 157.5,192.5 C158.5,197.9 159.2,202.9 157.5,207.5 C155.8,212.1 151.0,217.3 147.5,220.0 C144.0,222.7 139.2,220.4 136.2,223.8 C133.3,227.1 130.9,235.3 130.0,240.0 C129.1,244.7 130.2,248.3 131.0,252.0 C131.8,255.7 133.3,258.2 135.0,262.0 C136.7,265.8 140.4,270.8 141.2,275.0 C142.1,279.2 140.8,282.9 140.0,287.5 C139.2,292.1 136.7,297.1 136.2,302.5 C135.8,307.9 136.9,314.6 137.5,320.0 C138.1,325.4 140.4,330.0 140.0,335.0 C139.6,340.0 136.5,346.5 135.0,350.0 C133.5,353.5 131.7,355.0 131.0,356.0 L120.0,400.0 L30.0,400.0 L30.0,150.0Z" fill="#cc0000"/>
<path d="M174.0,362.0 C174.5,361.5 175.2,359.9 176.8,358.8 C178.4,357.7 180.7,356.2 183.5,355.4 C186.3,354.5 189.9,354.8 193.6,353.7 C197.2,352.6 201.2,350.5 205.4,348.7 C209.6,346.9 215.1,344.2 218.8,342.8 C222.6,341.4 225.2,340.3 227.9,340.3 C230.6,340.3 232.6,341.1 235.0,343.0 C237.4,344.9 240.3,349.7 242.5,352.0 C244.7,354.3 245.4,356.1 248.0,356.9 C250.6,357.7 255.0,357.7 258.1,356.9 C261.2,356.1 264.0,354.0 266.5,351.9 C269.0,349.8 271.0,346.1 273.2,344.3 C275.4,342.5 277.6,341.4 279.9,341.0 C282.1,340.6 284.5,340.8 286.7,341.8 C288.9,342.8 290.9,344.8 293.0,347.0 C295.1,349.2 295.4,353.8 299.0,355.0 C302.6,356.2 310.3,354.2 314.4,354.4 C318.5,354.6 320.4,356.0 323.6,356.1 C326.8,356.2 330.1,356.0 333.7,355.3 C337.3,354.6 341.5,353.4 345.5,351.9 C349.5,350.3 353.8,348.3 357.9,346.0 C362.0,343.7 365.5,340.5 370.0,338.0 C374.5,335.5 380.8,332.8 385.0,331.0 C389.2,329.2 391.9,328.8 395.0,327.0 C398.1,325.2 401.0,321.9 403.5,320.0 C406.0,318.1 407.4,317.7 410.2,315.6 C413.0,313.5 417.2,310.6 420.3,307.2 C423.4,303.8 426.3,299.4 428.7,295.5 C431.1,291.6 433.2,287.6 434.6,283.7 C436.0,279.8 435.9,275.8 437.1,271.9 C438.4,268.0 440.2,263.3 442.1,260.2 C444.1,257.1 446.6,254.8 448.8,253.4 C451.0,252.1 453.0,252.4 455.2,252.1 C457.4,251.8 460.6,250.7 462.0,251.3 C463.4,251.9 462.8,255.4 463.6,255.5 C464.4,255.6 465.9,252.1 467.0,252.1 C468.1,252.1 469.0,255.5 470.4,255.5 C471.8,255.5 474.0,253.5 475.4,252.1 C476.8,250.7 477.2,249.1 478.8,247.1 C480.4,245.1 483.1,242.5 485.0,240.0 C486.9,237.5 487.8,236.2 490.0,232.0 C492.2,227.8 496.7,217.8 498.0,215.0 L520.0,215.0 L620.0,215.0 L620.0,460.0 L160.0,460.0 L160.0,370.0Z" fill="#cc0000"/>
<path d="M295.0,420.0 C294.8,417.7 295.6,416.2 298.8,416.2 C301.9,416.2 312.1,417.9 313.8,420.0 C315.4,422.1 311.0,427.1 308.8,428.8 C306.5,430.4 302.3,431.5 300.0,430.0 C297.7,428.5 295.2,422.3 295.0,420.0Z" fill="#8b0000" stroke="#1a0000" stroke-width="1.0"/>
<path d="M320.0,420.0 C320.0,417.3 320.0,414.4 322.5,412.5 C325.0,410.6 330.8,409.1 335.0,408.8 C339.2,408.4 343.8,409.2 347.5,410.5 C351.2,411.8 355.4,414.2 357.5,416.2 C359.6,418.2 361.2,420.4 360.0,422.5 C358.8,424.6 354.2,427.3 350.0,428.8 C345.8,430.2 339.6,431.2 335.0,431.2 C330.4,431.2 325.0,430.6 322.5,428.8 C320.0,426.9 320.0,422.7 320.0,420.0Z" fill="#8b0000" stroke="#1a0000" stroke-width="1.0"/>
<path d="M192.0,386.0 C191.8,384.7 195.2,383.0 196.0,384.0 C196.8,385.0 197.7,391.7 197.0,392.0 C196.3,392.3 192.2,387.3 192.0,386.0Z" fill="#8b0000" stroke="#1a0000" stroke-width="1.0"/>
<path d="M203.0,414.0 C203.7,412.5 208.5,410.5 210.0,411.0 C211.5,411.5 212.7,415.5 212.0,417.0 C211.3,418.5 207.5,420.5 206.0,420.0 C204.5,419.5 202.3,415.5 203.0,414.0Z" fill="#8b0000" stroke="#1a0000" stroke-width="1.0"/>
<path d="M229.0,96.0 C229.8,98.3 232.3,104.8 233.8,110.0 C235.2,115.2 236.7,121.7 237.5,127.5 C238.3,133.3 238.8,139.6 238.8,145.0 C238.8,150.4 238.1,154.6 237.5,160.0 C236.9,165.4 236.7,173.5 235.0,177.5 C233.3,181.5 230.4,183.3 227.5,183.8 C224.6,184.2 220.8,182.3 217.5,180.0 C214.2,177.7 211.2,172.1 207.5,170.0 C203.8,167.9 198.8,167.5 195.0,167.5 C191.2,167.5 187.5,167.9 185.0,170.0 C182.5,172.1 181.0,175.8 180.0,180.0 C179.0,184.2 179.2,190.0 178.8,195.0 C178.3,200.0 178.3,205.4 177.5,210.0 C176.7,214.6 175.0,218.3 173.8,222.5 C172.5,226.7 170.8,231.2 170.0,235.0 C169.2,238.8 168.1,241.2 168.8,245.0 C169.4,248.8 173.2,251.9 173.8,257.5 C174.3,263.1 172.6,272.5 172.0,278.8 C171.4,285.0 171.2,290.6 170.0,295.0 C168.8,299.4 167.5,302.5 165.0,305.0 C162.5,307.5 157.5,307.5 155.0,310.0 C152.5,312.5 151.0,316.7 150.0,320.0 C149.0,323.3 149.2,326.3 148.8,330.0 C148.2,333.7 146.8,338.3 147.0,342.0 C147.2,345.7 148.7,349.8 150.0,352.0 C151.3,354.2 152.5,354.9 155.0,355.0 C157.5,355.1 161.7,354.2 165.0,352.5 C168.3,350.8 171.7,347.1 175.0,345.0 C178.3,342.9 180.0,342.1 185.0,340.0 C190.0,337.9 198.3,334.6 205.0,332.5 C211.7,330.4 218.8,328.5 225.0,327.5 C231.2,326.5 236.7,326.0 242.5,326.2 C248.3,326.5 253.8,329.4 260.0,328.8 C266.2,328.1 272.5,324.0 280.0,322.5 C287.5,321.0 297.9,319.6 305.0,320.0 C312.1,320.4 316.0,323.1 322.5,325.0 C329.0,326.9 336.2,330.2 343.8,331.2 C351.2,332.3 360.6,332.3 367.5,331.2 C374.4,330.2 379.6,327.3 385.0,325.0 C390.4,322.7 395.5,320.8 400.0,317.5 C404.5,314.2 408.7,309.2 412.0,305.0 C415.3,300.8 417.8,297.5 420.0,292.5 C422.2,287.5 424.4,280.4 425.0,275.0 C425.6,269.6 424.2,263.8 423.8,260.0 C423.3,256.2 423.5,255.4 422.5,252.5 C421.5,249.6 419.0,246.7 417.5,242.5 C416.0,238.3 414.4,232.5 413.8,227.5 C413.1,222.5 414.4,217.9 413.8,212.5 C413.1,207.1 411.5,200.8 410.0,195.0 C408.5,189.2 406.7,183.3 405.0,177.5 C403.3,171.7 401.0,164.2 400.0,160.0 C399.0,155.8 399.2,156.7 398.8,152.5 C398.3,148.3 398.3,141.2 397.5,135.0 C396.7,128.8 395.6,122.0 393.8,115.0 C391.9,108.0 387.5,96.7 386.2,93.0 L386.0,70.0 L229.0,70.0Z" fill="#ff4800"/>
<path d="M287.5,170.0 C289.0,170.4 290.0,174.6 291.2,177.5 C292.5,180.4 292.7,182.5 295.0,187.5 C297.3,192.5 303.8,202.5 305.0,207.5 C306.2,212.5 304.0,214.2 302.5,217.5 C301.0,220.8 299.6,224.2 296.2,227.5 C292.9,230.8 287.3,233.8 282.5,237.5 C277.7,241.2 272.1,246.7 267.5,250.0 C262.9,253.3 258.8,256.0 255.0,257.5 C251.2,259.0 247.5,259.6 245.0,258.8 C242.5,257.9 240.4,255.6 240.0,252.5 C239.6,249.4 240.8,245.4 242.5,240.0 C244.2,234.6 247.9,227.5 250.0,220.0 C252.1,212.5 252.9,200.8 255.0,195.0 C257.1,189.2 259.2,187.3 262.5,185.0 C265.8,182.7 271.7,182.9 275.0,181.2 C278.3,179.6 280.4,176.9 282.5,175.0 C284.6,173.1 286.0,169.6 287.5,170.0Z" fill="#ff1400" stroke="#1a0000" stroke-width="1.0"/>
<path d="M203.8,265.0 C204.4,263.3 207.5,262.5 210.0,262.5 C212.5,262.5 217.5,263.3 218.8,265.0 C220.0,266.7 218.5,270.2 217.5,272.5 C216.5,274.8 214.4,278.8 212.5,278.8 C210.6,278.8 207.7,274.8 206.2,272.5 C204.8,270.2 203.1,266.7 203.8,265.0Z" fill="#ff1400" stroke="#1a0000" stroke-width="1.0"/>
<path d="M262.0,104.0 C261.3,104.3 259.5,105.8 258.0,106.0 C256.5,106.2 254.7,104.3 253.0,105.0 C251.3,105.7 248.3,107.2 248.0,110.0 C247.7,112.8 249.3,117.8 251.0,122.0 C252.7,126.2 255.3,131.0 258.0,135.0 C260.7,139.0 263.3,143.7 267.0,146.0 C270.7,148.3 275.8,147.9 280.0,149.0 C284.2,150.1 288.5,150.3 292.0,152.5 C295.5,154.7 298.8,158.8 301.0,162.0 C303.2,165.2 303.5,168.2 305.0,172.0 C306.5,175.8 308.2,181.2 310.0,185.0 C311.8,188.8 314.0,191.2 316.0,195.0 C318.0,198.8 319.5,202.8 322.0,208.0 C324.5,213.2 327.5,220.5 331.0,226.0 C334.5,231.5 339.5,235.8 343.0,241.0 C346.5,246.2 349.2,252.7 352.0,257.0 C354.8,261.3 359.1,264.0 360.0,267.0 C360.9,270.0 360.8,273.7 357.5,275.0 C354.2,276.3 345.4,275.4 340.0,275.0 C334.6,274.6 330.0,272.7 325.0,272.5 C320.0,272.3 315.0,272.9 310.0,273.8 C305.0,274.6 299.6,275.6 295.0,277.5 C290.4,279.4 286.7,284.2 282.5,285.0 C278.3,285.8 273.8,284.0 270.0,282.5 C266.2,281.0 263.8,277.9 260.0,276.2 C256.2,274.6 251.2,272.9 247.5,272.5 C243.8,272.1 240.8,272.5 237.5,273.8 C234.2,275.0 230.8,277.3 227.5,280.0 C224.2,282.7 221.2,288.3 217.5,290.0 C213.8,291.7 209.6,291.2 205.0,290.0 C200.4,288.8 193.5,284.2 190.0,282.5 C186.5,280.8 185.4,278.8 183.8,280.0 C182.1,281.2 181.0,286.7 180.0,290.0 C179.0,293.3 178.4,296.2 178.0,300.0 C177.6,303.8 177.2,309.2 177.5,312.5 C177.8,315.8 177.9,317.1 180.0,320.0 C182.1,322.9 185.8,329.0 190.0,330.0 C194.2,331.0 200.0,327.7 205.0,326.0 C210.0,324.3 214.6,321.2 220.0,320.0 C225.4,318.8 231.7,318.8 237.5,318.8 C243.3,318.8 249.6,320.4 255.0,320.0 C260.4,319.6 265.2,318.4 270.0,316.2 C274.8,314.1 278.8,307.8 283.8,307.0 C288.8,306.2 296.5,310.3 300.0,311.2 C303.5,312.2 301.2,311.9 305.0,312.5 C308.8,313.1 316.7,314.2 322.5,315.0 C328.3,315.8 334.2,316.9 340.0,317.5 C345.8,318.1 351.7,319.2 357.5,318.8 C363.3,318.3 369.6,316.9 375.0,315.0 C380.4,313.1 385.4,310.2 390.0,307.5 C394.6,304.8 398.8,302.1 402.5,298.8 C406.2,295.4 410.2,291.5 412.5,287.5 C414.8,283.5 415.8,279.6 416.2,275.0 C416.7,270.4 416.0,263.8 415.0,260.0 C414.0,256.2 411.9,254.5 410.0,252.0 C408.1,249.5 404.8,248.1 403.5,245.0 C402.2,241.9 402.8,237.7 402.3,233.6 C401.8,229.5 401.2,224.5 400.6,220.2 C400.0,215.9 399.1,211.9 398.5,208.0 C397.9,204.1 398.2,201.7 397.0,196.7 C395.8,191.7 394.0,185.2 391.5,177.8 C389.0,170.5 384.2,158.9 382.0,152.6 C379.8,146.3 380.7,145.0 378.3,140.0 C375.9,135.0 371.0,129.2 367.5,122.5 C364.0,115.8 359.2,103.8 357.5,100.0 L357.0,80.0 L262.0,80.0Z" fill="#ff7f00"/>
<path d="M190.0,182.5 C192.8,181.5 200.0,186.7 205.0,188.8 C210.0,190.8 215.8,192.3 220.0,195.0 C224.2,197.7 227.7,200.8 230.0,205.0 C232.3,209.2 233.8,214.6 233.8,220.0 C233.8,225.4 231.9,233.8 230.0,237.5 C228.1,241.2 225.8,242.5 222.5,242.5 C219.2,242.5 214.2,239.6 210.0,237.5 C205.8,235.4 200.8,232.9 197.5,230.0 C194.2,227.1 191.7,223.8 190.0,220.0 C188.3,216.2 187.8,211.7 187.5,207.5 C187.2,203.3 187.6,199.2 188.0,195.0 C188.4,190.8 187.2,183.5 190.0,182.5Z" fill="#ff7f00" stroke="#1a0000" stroke-width="1.0"/>
<path d="M282.5,103.0 C283.6,104.8 287.2,110.2 289.0,114.0 C290.8,117.8 291.7,122.0 293.0,126.0 C294.3,130.0 295.8,134.7 297.0,138.0 C298.2,141.3 298.7,143.2 300.0,146.0 C301.3,148.8 303.0,152.0 305.0,155.0 C307.0,158.0 310.0,161.2 312.0,164.0 C314.0,166.8 314.8,167.7 317.0,172.0 C319.2,176.3 322.7,185.3 325.0,190.0 C327.3,194.7 328.0,196.3 331.0,200.0 C334.0,203.7 339.3,207.8 343.0,212.0 C346.7,216.2 350.2,221.5 353.0,225.0 C355.8,228.5 357.6,230.9 360.0,233.0 C362.4,235.1 363.8,236.5 367.5,237.5 C371.2,238.5 378.8,239.6 382.5,238.8 C386.2,237.9 388.2,235.6 390.0,232.5 C391.8,229.4 392.6,223.8 393.0,220.0 C393.4,216.2 393.1,213.9 392.5,210.0 C391.9,206.1 391.8,202.1 389.6,196.7 C387.4,191.3 382.8,185.2 379.5,177.8 C376.2,170.5 372.6,158.9 370.1,152.6 C367.6,146.3 367.6,145.0 364.4,140.0 C361.2,135.0 354.6,128.3 351.0,122.5 C347.4,116.7 344.3,108.6 342.5,105.0 C340.7,101.4 340.8,101.7 340.4,101.0 L340.0,85.0 L282.0,85.0Z" fill="#ffa800"/>
<path d="M200.0,196.2 C202.2,195.2 206.7,196.9 210.0,198.8 C213.3,200.6 218.1,204.6 220.0,207.5 C221.9,210.4 222.5,214.0 221.2,216.2 C220.0,218.5 215.6,220.4 212.5,221.2 C209.4,222.1 205.0,222.3 202.5,221.2 C200.0,220.2 198.4,217.7 197.5,215.0 C196.6,212.3 196.6,208.1 197.0,205.0 C197.4,201.9 197.8,197.3 200.0,196.2Z" fill="#ffa800" stroke="#1a0000" stroke-width="1.0"/>
<path d="M186.2,302.5 C187.5,300.2 189.4,298.1 192.5,297.5 C195.6,296.9 201.2,297.7 205.0,298.8 C208.8,299.8 213.3,301.9 215.0,303.8 C216.7,305.6 216.7,308.1 215.0,310.0 C213.3,311.9 208.3,313.1 205.0,315.0 C201.7,316.9 197.9,320.4 195.0,321.2 C192.1,322.1 189.2,321.7 187.5,320.0 C185.8,318.3 185.2,314.2 185.0,311.2 C184.8,308.3 185.0,304.8 186.2,302.5Z" fill="#ffa800" stroke="#1a0000" stroke-width="1.0"/>
<path d="M228.8,295.0 C228.8,292.1 230.2,287.5 232.5,285.0 C234.8,282.5 238.8,280.6 242.5,280.0 C246.2,279.4 251.2,280.0 255.0,281.2 C258.8,282.5 262.7,284.8 265.0,287.5 C267.3,290.2 268.8,294.2 268.8,297.5 C268.8,300.8 267.3,305.2 265.0,307.5 C262.7,309.8 258.8,311.2 255.0,311.2 C251.2,311.2 246.2,309.0 242.5,307.5 C238.8,306.0 234.8,304.6 232.5,302.5 C230.2,300.4 228.8,297.9 228.8,295.0Z" fill="#ffa800" stroke="#1a0000" stroke-width="1.0"/>
<path d="M295.0,291.2 C296.0,289.2 298.3,286.5 302.5,285.0 C306.7,283.5 315.4,282.8 320.0,282.5 C324.6,282.2 326.7,282.2 330.0,283.0 C333.3,283.8 337.1,285.4 340.0,287.0 C342.9,288.6 343.3,291.8 347.5,292.5 C351.7,293.2 359.8,291.9 365.0,291.2 C370.2,290.6 375.4,290.2 378.8,288.8 C382.1,287.3 383.1,285.6 385.0,282.5 C386.9,279.4 387.5,273.5 390.0,270.0 C392.5,266.5 397.7,261.2 400.0,261.2 C402.3,261.2 402.7,266.9 403.8,270.0 C404.8,273.1 406.9,277.1 406.2,280.0 C405.6,282.9 402.7,285.6 400.0,287.5 C397.3,289.4 393.3,290.5 390.0,291.2 C386.7,292.0 382.9,290.1 380.0,292.0 C377.1,293.9 375.8,300.3 372.5,302.5 C369.2,304.7 364.2,304.0 360.0,305.0 C355.8,306.0 351.7,308.8 347.5,308.8 C343.3,308.8 339.6,305.8 335.0,305.0 C330.4,304.2 325.0,304.0 320.0,303.8 C315.0,303.5 309.0,304.8 305.0,303.8 C301.0,302.7 297.9,299.6 296.2,297.5 C294.6,295.4 294.0,293.3 295.0,291.2Z" fill="#ffa800" stroke="#1a0000" stroke-width="1.0"/>
<path d="M305.7,110.0 C305.0,112.6 307.1,121.6 308.9,125.4 C310.7,129.2 313.9,130.7 316.4,133.0 C318.9,135.3 321.9,139.1 324.0,139.3 C326.1,139.5 328.1,136.1 329.1,134.2 C330.2,132.3 330.7,130.0 330.3,127.9 C329.9,125.8 327.9,123.6 326.5,121.6 C325.1,119.6 324.2,117.9 322.0,116.0 C319.8,114.1 315.7,111.0 313.0,110.0 C310.3,109.0 306.4,107.4 305.7,110.0Z" fill="#ffdc00" stroke="#1a0000" stroke-width="1.0"/>
<path d="M328.8,157.5 C329.6,154.6 332.5,149.0 335.0,147.5 C337.5,146.0 340.4,147.5 343.8,148.8 C347.1,150.0 352.1,151.9 355.0,155.0 C357.9,158.1 359.8,163.8 361.2,167.5 C362.7,171.2 363.5,174.4 363.8,177.5 C364.0,180.6 363.5,185.4 362.5,186.2 C361.5,187.1 359.2,184.4 357.5,182.5 C355.8,180.6 354.8,177.1 352.5,175.0 C350.2,172.9 346.7,171.0 343.8,170.0 C340.8,169.0 337.3,169.6 335.0,168.8 C332.7,167.9 331.0,166.9 330.0,165.0 C329.0,163.1 327.9,160.4 328.8,157.5Z" fill="#ffdc00" stroke="#1a0000" stroke-width="1.0"/>
<path d="M250.0,287.5 C252.3,287.5 257.5,292.1 257.5,295.0 C257.5,297.9 252.3,305.0 250.0,305.0 C247.7,305.0 243.8,297.9 243.8,295.0 C243.8,292.1 247.7,287.5 250.0,287.5Z" fill="#ffdc00" stroke="#1a0000" stroke-width="1.0"/>
<path d="M242.7,98.2 L243.7,101.6 L245.4,104.7 L247.4,107.7 L243.7,109.7 L240.1,111.9 L236.1,113.4 L232.6,114.0 L229.2,114.8 L225.7,115.2 L224.8,119.0 L228.4,120.9 L232.3,121.9 L231.7,125.7 L230.4,129.4 L225.7,130.4 L221.0,131.3 L219.0,134.5 L217.2,137.9 L212.5,141.7 L215.3,145.5" fill="none" stroke="#ffffff" stroke-opacity="0.78" stroke-width="1.25" stroke-linejoin="round"/>
<path d="M169.0,129.4 L171.7,131.5 L173.0,134.9 L175.6,137.0 L179.2,139.7 L183.2,141.7 L187.1,143.2 L190.7,145.5 L194.5,147.4 L198.3,146.4 L202.1,145.5 L205.9,146.4 L209.6,147.4 L215.3,145.5 L219.2,144.8 L222.9,143.6 L227.6,144.1 L232.3,143.6 L235.7,144.2 L238.9,145.4 L241.8,147.4 L246.4,148.9 L251.2,149.3 L255.0,148.7 L258.8,148.3 L262.7,147.8 L266.4,146.4 L269.6,142.9 L273.9,140.8 L276.4,138.5 L279.2,136.6 L281.5,134.1 L285.1,132.3 L289.0,131.3 L292.8,132.1 L296.6,132.0 L300.4,131.3 L304.2,130.8 L308.0,131.2 L311.7,132.3 L316.0,131.4 L320.2,130.4" fill="none" stroke="#ffffff" stroke-opacity="0.78" stroke-width="1.25" stroke-linejoin="round"/>
<path d="M319.3,120.0 L319.2,123.6 L319.8,127.1 L321.2,130.4 L322.9,134.0 L323.8,137.8 L324.0,141.7 L323.9,145.1 L324.6,148.4 L325.1,151.7 L325.9,155.0 L326.7,159.7 L326.8,164.4 L325.9,167.8 L322.7,168.2 L318.8,170.3 L315.1,172.7 L312.5,175.1 L310.0,177.6 L307.6,180.2 L306.6,185.9 L303.3,185.0 L300.4,183.0 L296.6,186.7 L294.3,189.4 L292.0,192.0 L289.2,194.2 L287.1,197.1 L283.9,195.4 L280.4,194.5 L276.7,194.3" fill="none" stroke="#ffffff" stroke-opacity="0.78" stroke-width="1.25" stroke-linejoin="round"/>
<path d="M192.6,147.4 L192.1,152.2 L190.7,156.8 L188.8,162.0 L190.6,165.9 L192.6,169.7 L195.6,173.4 L198.3,177.3 L198.6,182.0 L199.2,186.7 L196.7,189.9 L194.5,193.3 L197.0,196.3 L198.3,200.0 L199.6,204.7 L199.2,209.5 L196.4,215.1 L195.8,219.8 L196.4,224.6 L198.3,228.4" fill="none" stroke="#ffffff" stroke-opacity="0.78" stroke-width="1.25" stroke-linejoin="round"/>
<path d="M198.3,177.3 L202.3,178.2 L205.9,180.0 L210.0,181.8 L213.4,184.8 L217.2,185.6 L221.0,186.7 L222.9,183.5 L225.7,181.0 L230.4,183.0 L233.1,179.9 L236.6,177.8 L239.9,175.4 L241.5,171.8 L241.8,167.8 L244.7,165.6 L247.1,163.0 L249.3,160.2 L252.2,157.3 L255.7,155.2 L258.8,152.7 L259.7,148.9" fill="none" stroke="#ffffff" stroke-opacity="0.78" stroke-width="1.25" stroke-linejoin="round"/>
<path d="M263.5,148.9 L263.3,153.7 L263.5,158.4 L265.4,161.2 L267.5,163.7 L270.1,165.9 L271.3,170.0 L273.9,173.5 L274.0,177.3 L274.9,181.0 L277.7,186.7 L276.5,190.4 L276.7,194.3 L275.0,197.7 L272.0,200.0 L271.1,203.2 L269.4,206.1 L269.2,209.4 L267.3,207.6 L267.5,210.9 L268.2,214.2 L265.0,215.5 L262.6,218.0 L257.9,219.1 L253.1,218.9 L249.3,219.0 L245.6,218.9 L242.3,218.7 L239.3,217.6 L236.1,217.0 L232.4,216.2 L228.4,216.5 L224.8,215.1 L221.1,216.1 L217.2,216.1 L213.4,215.8 L209.8,214.1 L205.9,214.2 L202.8,211.5 L199.2,209.5" fill="none" stroke="#ffffff" stroke-opacity="0.78" stroke-width="1.25" stroke-linejoin="round"/>
<path d="M128.4,203.8 L132.2,203.7 L136.0,203.1 L139.7,201.9 L143.5,202.2 L147.3,202.1 L151.0,202.8 L154.4,203.0 L157.3,205.0 L160.5,205.7 L163.7,208.2 L166.5,211.0 L169.9,213.2 L172.6,215.6 L174.6,218.6 L177.5,220.8 L181.5,222.4 L185.1,224.6 L188.9,225.1 L192.6,225.0 L196.4,224.6" fill="none" stroke="#ffffff" stroke-opacity="0.78" stroke-width="1.25" stroke-linejoin="round"/>
<path d="M379.4,100.1 L382.7,102.4 L386.0,104.7 L388.8,107.7 L391.0,110.2 L394.1,111.9 L395.9,114.8 L398.3,117.1 L400.4,120.1 L402.7,123.0 L404.0,126.6 L405.3,130.4 L407.3,133.9 L407.8,137.9 L409.7,140.7 L411.5,143.6 L407.8,146.4 L404.9,149.3 L407.8,155.0 L409.4,158.8 L410.3,162.8 L410.6,167.0 L414.0,169.8 L417.2,172.7 L420.9,173.9 L424.8,173.3 L428.5,174.6 L433.2,173.6 L438.0,173.6 L439.9,178.4 L437.1,183.1 L439.3,186.1 L441.8,188.8" fill="none" stroke="#ffffff" stroke-opacity="0.78" stroke-width="1.25" stroke-linejoin="round"/>
<path d="M411.5,143.6 L414.1,141.3 L417.2,139.8 L420.6,140.0 L423.6,138.0 L427.0,138.0 L431.6,137.3 L436.1,136.0 L439.7,134.4 L443.7,134.1 L446.3,131.9 L449.3,130.4" fill="none" stroke="#ffffff" stroke-opacity="0.78" stroke-width="1.25" stroke-linejoin="round"/>
<path d="M404.9,150.2 L401.4,151.2 L398.0,152.3 L394.5,153.0 L390.8,154.3 L386.9,153.7 L383.2,155.0 L379.4,155.8 L375.6,155.0 L371.8,155.0 L366.2,152.8 L364.1,156.8 L363.3,161.3 L362.0,165.4 L359.5,168.9 L355.2,169.3 L351.0,169.8 L345.4,167.0 L341.2,167.3 L337.0,168.0 L333.6,168.7 L330.2,168.1 L326.8,167.8" fill="none" stroke="#ffffff" stroke-opacity="0.78" stroke-width="1.25" stroke-linejoin="round"/>
<path d="M441.8,188.8 L445.6,188.3 L449.3,187.4 L453.1,186.9 L457.0,184.6 L460.7,182.1 L466.4,179.3 L469.2,182.8 L471.1,186.9 L474.2,188.8 L477.7,189.7 L481.8,189.9 L485.9,189.4 L490.0,188.8" fill="none" stroke="#ffffff" stroke-opacity="0.78" stroke-width="1.25" stroke-linejoin="round"/>
<path d="M441.8,188.8 L441.4,192.6 L440.8,196.3 L436.6,194.8 L432.3,193.5 L428.8,191.4 L424.8,190.6 L422.3,192.9 L419.7,195.1 L417.2,197.3 L413.3,198.6 L409.6,200.1 L406.0,201.6 L402.1,202.0 L398.3,203.4 L394.5,204.8 L390.3,203.2 L386.0,202.0 L382.7,202.5 L379.9,204.5 L376.6,204.8 L373.3,205.6 L369.9,205.8" fill="none" stroke="#ffffff" stroke-opacity="0.78" stroke-width="1.25" stroke-linejoin="round"/>
<path d="M359.5,168.9 L361.9,171.7 L364.3,174.6 L365.0,179.4 L366.2,184.0 L365.2,187.8 L365.9,191.3 L367.7,194.4 L368.8,197.8 L369.2,201.3 L369.9,204.8" fill="none" stroke="#ffffff" stroke-opacity="0.78" stroke-width="1.25" stroke-linejoin="round"/>
<path d="M440.8,196.3 L443.0,198.9 L444.3,202.1 L446.5,204.8 L447.8,208.1 L449.1,211.4 L451.2,214.3 L453.0,217.2 L454.2,220.4 L455.0,223.7 L456.2,226.7 L456.7,229.9 L456.9,233.2 L457.0,238.0 L457.8,242.7" fill="none" stroke="#ffffff" stroke-opacity="0.78" stroke-width="1.25" stroke-linejoin="round"/>
<path d="M376.6,204.8 L379.4,210.5 L382.2,214.3 L380.4,217.5 L377.5,219.9 L379.4,225.6 L385.1,227.6 L389.2,229.8 L393.6,231.3 L392.8,236.0 L392.6,240.8" fill="none" stroke="#ffffff" stroke-opacity="0.78" stroke-width="1.25" stroke-linejoin="round"/>
<path d="M337.8,172.7 L336.7,176.4 L338.0,180.3 L336.9,184.0 L337.0,188.8 L337.8,193.5 L337.1,197.5 L334.5,200.8 L334.0,204.8 L332.2,207.8 L328.8,209.1 L326.7,211.7 L324.6,214.3 L321.3,216.7 L318.9,219.9 L317.0,225.6 L311.3,228.5 L313.2,231.9 L316.7,233.9 L318.9,237.0 L322.2,239.0 L325.0,241.7 L328.4,243.6 L332.2,243.5 L336.0,243.7 L339.8,243.9 L343.5,244.6 L347.0,242.9 L350.1,240.7 L352.9,238.0 L356.8,237.5 L360.5,236.1 L362.8,240.2 L364.3,244.6 L367.7,247.1 L371.8,248.4 L375.6,247.2 L379.3,245.4 L383.2,244.6 L386.3,243.3 L389.4,241.9 L392.6,240.8" fill="none" stroke="#ffffff" stroke-opacity="0.78" stroke-width="1.25" stroke-linejoin="round"/>
<path d="M264.5,218.9 L266.6,222.6 L268.2,226.5 L269.2,229.8 L270.1,233.1 L274.0,234.9 L277.7,236.9 L275.9,241.2 L273.9,245.4 L270.2,248.3 L266.4,251.0 L262.5,252.7 L258.8,254.8 L257.3,258.8 L255.0,262.4 L253.1,265.6 L251.6,269.0 L249.4,273.3 L245.9,276.6 L246.0,279.9 L245.7,283.2 L245.8,286.5 L245.0,289.8 L245.0,293.2 L245.9,296.4" fill="none" stroke="#ffffff" stroke-opacity="0.78" stroke-width="1.25" stroke-linejoin="round"/>
<path d="M277.7,236.9 L281.5,236.6 L285.3,236.8 L289.0,235.9 L292.8,236.7 L296.6,235.5 L300.4,235.9 L301.4,239.9 L303.2,243.5 L304.2,249.1 L308.0,248.5 L311.7,247.3 L315.6,246.6 L319.3,245.4 L322.8,243.3 L326.8,242.5" fill="none" stroke="#ffffff" stroke-opacity="0.78" stroke-width="1.25" stroke-linejoin="round"/>
<path d="M311.7,248.2 L310.3,251.3 L307.7,253.7 L306.0,256.7 L305.8,261.5 L305.1,266.2 L303.1,269.3 L300.4,271.8 L300.9,276.5 L301.3,281.3 L300.9,284.7 L300.4,288.0" fill="none" stroke="#ffffff" stroke-opacity="0.78" stroke-width="1.25" stroke-linejoin="round"/>
<path d="M196.4,226.5 L193.6,229.4 L191.0,232.5 L188.8,235.9 L185.4,238.8 L184.4,242.5 L183.5,246.3 L181.6,250.1 L179.9,254.0 L177.9,257.7 L173.8,258.2 L170.4,260.6 L166.5,261.5 L162.6,261.5 L158.9,260.6 L155.2,259.6 L152.2,261.2 L149.0,262.4 L145.7,263.4 L141.9,262.8 L138.2,261.5 L134.9,259.6 L132.5,256.7 L128.5,254.6 L124.9,252.0 L121.2,253.6 L117.3,254.4 L113.6,255.8 L110.3,255.7 L107.1,255.2 L104.1,253.9 L100.1,252.5 L96.6,250.0 L92.8,248.2 L89.4,245.5 L86.2,242.6" fill="none" stroke="#ffffff" stroke-opacity="0.78" stroke-width="1.25" stroke-linejoin="round"/>
<path d="M198.3,228.4 L201.2,230.3 L204.5,231.2 L207.8,232.1 L209.3,235.5 L210.9,238.8 L213.4,241.6 L216.3,244.5 L218.3,248.0 L221.0,251.0 L225.1,253.9 L226.2,257.1 L227.9,259.9 L229.9,262.4 L231.7,265.2 L233.2,268.9 L233.8,272.8 L234.6,276.6 L235.3,280.2 L238.1,282.9 L239.2,286.4 L240.3,289.8 L242.5,293.6 L245.9,296.4 L246.0,299.9 L246.4,303.3 L245.9,306.8" fill="none" stroke="#ffffff" stroke-opacity="0.78" stroke-width="1.25" stroke-linejoin="round"/>
<path d="M177.9,257.7 L179.4,260.7 L179.5,264.1 L180.7,267.1 L183.4,271.0 L186.4,274.7 L183.6,278.5 L180.7,282.3 L176.7,283.7 L172.4,283.7 L168.4,285.1 L164.5,285.5 L160.9,286.9 L157.1,287.9 L155.2,291.2 L153.3,294.5 L149.5,293.6 L147.6,289.8 L144.3,290.5 L141.1,291.1 L137.7,290.8 L134.4,290.8 L131.5,293.0 L128.7,295.5 L129.8,299.2 L128.9,303.1 L129.7,306.8 L130.8,310.5 L131.4,314.3 L131.6,318.2 L130.9,321.9 L128.7,325.0" fill="none" stroke="#ffffff" stroke-opacity="0.78" stroke-width="1.25" stroke-linejoin="round"/>
<path d="M180.7,282.3 L183.5,285.7 L187.3,287.9 L191.0,290.3 L193.9,293.6 L194.7,297.4 L193.1,301.1 L193.9,304.9 L193.5,308.2 L192.7,311.4 L191.1,314.4 L194.9,313.4 L198.5,313.3 L201.9,312.4 L205.5,313.0 L209.0,312.0 L212.2,311.3 L215.5,312.2 L218.6,310.9 L221.9,311.1 L225.1,310.6 L228.5,311.1 L231.8,310.5 L235.1,310.6 L238.4,309.7 L242.3,308.6 L245.9,306.8" fill="none" stroke="#ffffff" stroke-opacity="0.78" stroke-width="1.25" stroke-linejoin="round"/>
<path d="M245.9,296.4 L249.5,296.2 L252.9,295.3 L256.3,294.2 L259.3,292.0 L262.9,291.7 L266.7,291.2 L270.5,290.2 L274.3,289.7 L278.1,288.9 L281.8,288.0 L285.6,287.9 L289.4,288.1 L293.2,287.9 L296.6,287.2 L300.0,287.5 L303.8,287.3 L307.5,286.5 L311.3,286.5 L315.1,287.1 L318.3,288.2 L321.8,288.4 L325.1,289.3 L328.4,290.0 L331.9,293.1 L335.9,295.6 L337.1,299.3 L337.8,303.2 L340.7,301.2 L344.3,301.1 L347.3,299.4 L350.5,298.6 L353.6,297.8 L356.7,296.6 L360.8,297.0 L365.0,297.0 L368.7,297.5 L372.3,296.1 L376.0,296.0 L378.8,294.4 L381.0,291.9 L383.8,290.2 L386.4,288.4 L388.8,286.2" fill="none" stroke="#ffffff" stroke-opacity="0.78" stroke-width="1.25" stroke-linejoin="round"/>
<path d="M245.9,306.8 L249.0,307.8 L252.1,308.6 L255.4,308.7 L256.9,311.7 L256.5,315.3 L258.2,318.2 L256.9,320.0 L256.5,323.3 L254.8,326.3 L254.1,329.5 L255.1,333.2 L254.3,337.1 L255.0,340.8 L254.6,345.6 L253.1,350.2 L252.7,354.0 L252.7,357.8 L253.1,361.6 L255.3,365.0 L258.2,367.8 L260.7,371.0 L262.6,376.7 L263.9,380.2 L265.6,383.5 L268.2,386.2 L271.2,388.9 L273.2,392.5 L275.8,395.6 L276.0,399.6 L277.7,403.2 L276.4,406.5 L275.8,410.0 L275.7,413.6 L275.8,417.2 L274.6,420.8 L275.9,424.4 L275.0,428.0" fill="none" stroke="#ffffff" stroke-opacity="0.78" stroke-width="1.25" stroke-linejoin="round"/>
<path d="M293.2,288.9 L292.8,293.0 L291.2,297.0 L291.3,301.2 L291.4,305.1 L293.2,308.7 L292.8,312.6 L294.1,316.3 L294.7,320.0 L293.8,323.7 L294.2,327.7 L292.8,331.3 L290.8,334.9 L290.7,339.0 L289.0,342.7 L286.2,344.6 L285.1,348.0 L283.4,351.2 L284.0,355.4 L284.3,359.7 L283.7,363.9 L283.4,368.2 L279.8,369.8 L275.8,370.1 L272.3,371.7 L269.2,373.9 L265.7,374.8 L262.6,376.7" fill="none" stroke="#ffffff" stroke-opacity="0.78" stroke-width="1.25" stroke-linejoin="round"/>
<path d="M191.1,314.4 L188.3,318.2 L192.6,320.0 L190.4,322.6 L188.8,325.7 L187.4,329.1 L185.5,332.2 L183.2,335.1 L183.0,339.9 L183.2,344.6 L181.9,347.8 L179.4,350.2 L175.5,350.7 L171.8,352.1" fill="none" stroke="#ffffff" stroke-opacity="0.78" stroke-width="1.25" stroke-linejoin="round"/>
<path d="M200.2,333.2 L200.9,337.1 L201.8,340.9 L202.3,344.8 L204.0,348.4 L207.4,350.2 L210.7,352.2 L213.4,355.0 L216.6,356.2 L220.1,356.1 L223.4,356.9 L226.7,357.8 L229.1,361.0 L232.3,363.5 L235.5,365.4 L238.0,368.2 L241.9,368.3 L245.5,366.9 L249.3,366.3 L253.1,361.6" fill="none" stroke="#ffffff" stroke-opacity="0.78" stroke-width="1.25" stroke-linejoin="round"/>
<path d="M238.0,368.2 L234.5,370.4 L230.7,371.9 L226.7,372.9 L224.7,376.6 L223.4,380.7 L221.0,384.3 L220.3,388.3 L218.5,391.9 L217.2,395.6 L214.5,399.5 L211.5,403.2 L211.0,406.7 L209.6,410.0" fill="none" stroke="#ffffff" stroke-opacity="0.78" stroke-width="1.25" stroke-linejoin="round"/>
<path d="M289.0,342.7 L290.8,346.0 L292.8,349.3 L297.5,346.5 L299.4,349.2 L300.3,352.4 L302.8,354.8 L304.2,357.8 L304.9,361.1 L305.9,364.3 L306.4,367.7 L307.0,371.0 L306.5,374.9 L308.3,378.5 L307.9,382.4 L313.6,382.4 L316.9,381.4 L320.1,380.1 L323.4,379.3 L326.8,378.6 L330.7,379.0 L334.4,377.7 L338.2,374.8" fill="none" stroke="#ffffff" stroke-opacity="0.78" stroke-width="1.25" stroke-linejoin="round"/>
<path d="M311.3,383.0 L311.1,386.3 L311.4,389.6 L311.6,392.9 L310.4,396.2 L311.0,399.5 L310.4,402.8 L308.5,405.6 L306.1,408.0 L303.8,410.4 L300.0,412.3 L299.8,416.1 L300.0,419.8 L301.2,424.0 L303.8,427.4 L301.9,433.0" fill="none" stroke="#ffffff" stroke-opacity="0.78" stroke-width="1.25" stroke-linejoin="round"/>
<path d="M338.8,302.3 L338.6,305.6 L337.5,308.6 L336.1,311.6 L335.0,314.6 L331.9,317.2 L329.3,320.2 L329.7,323.6 L329.5,326.9 L329.1,330.2 L328.4,333.5 L328.5,337.0 L330.1,340.2 L329.7,343.8 L330.4,347.1 L331.2,350.5 L332.1,354.2 L331.7,358.0 L332.1,361.8 L334.1,365.6 L335.9,369.4 L335.7,372.7 L334.5,375.9 L335.0,379.2" fill="none" stroke="#ffffff" stroke-opacity="0.78" stroke-width="1.25" stroke-linejoin="round"/>
<path d="M346.3,301.3 L348.2,304.4 L349.1,307.8 L350.1,311.2 L351.0,314.6 L351.9,317.9 L354.0,320.6 L355.2,323.8 L357.7,326.4 L358.6,329.7 L360.0,333.0 L360.9,336.5 L362.8,339.6 L364.3,342.9 L366.3,346.0 L368.8,348.4 L371.8,350.5 L371.4,354.3 L371.4,358.2 L369.9,361.8 L367.9,364.8 L367.3,368.4 L365.2,371.3 L364.3,372.6" fill="none" stroke="#ffffff" stroke-opacity="0.78" stroke-width="1.25" stroke-linejoin="round"/>
<path d="M345.4,245.5 L346.9,248.4 L348.3,251.3 L350.1,254.0 L350.2,257.9 L351.7,261.5 L352.0,265.4 L354.0,268.7 L355.9,272.0 L358.6,274.8 L362.3,276.1 L366.2,275.5 L369.9,276.7 L373.6,278.2 L377.4,279.4 L381.3,280.5 L385.0,282.9 L388.8,285.2 L392.2,282.4 L394.5,278.6 L395.8,274.8 L396.9,271.0 L398.3,267.3 L399.5,262.6 L399.2,257.8 L398.3,252.1 L396.6,248.2 L394.2,244.7 L392.6,240.8" fill="none" stroke="#ffffff" stroke-opacity="0.78" stroke-width="1.25" stroke-linejoin="round"/>
<path d="M398.3,252.1 L402.1,253.1 L405.9,254.0 L409.7,252.2 L413.4,250.2 L417.2,250.3 L421.0,250.0 L424.8,249.5 L428.5,248.4 L432.2,246.9 L436.3,246.6 L439.9,244.6 L443.7,241.7 L447.5,243.0 L451.2,244.6 L456.9,243.6 L458.8,248.4 L461.9,251.5 L464.5,255.0 L464.8,250.6 L466.4,246.5 L470.2,245.9 L473.8,244.7 L477.7,244.6 L481.1,244.9 L484.3,246.2 L487.5,247.2 L490.9,247.4" fill="none" stroke="#ffffff" stroke-opacity="0.78" stroke-width="1.25" stroke-linejoin="round"/>
<path d="M399.2,267.3 L400.8,270.2 L402.2,273.2 L403.9,276.0 L405.9,278.6 L408.4,281.0 L411.8,282.1 L413.9,285.0 L417.2,286.2 L420.5,287.5 L423.7,288.9 L427.0,290.1 L430.4,290.9 L433.2,293.7 L437.0,295.0 L439.9,297.5 L444.6,298.2 L449.3,299.4 L455.0,301.3 L458.1,298.7 L460.7,295.6 L460.8,290.9 L460.7,286.2 L458.2,282.1 L455.0,278.6 L452.0,275.9 L449.3,272.9" fill="none" stroke="#ffffff" stroke-opacity="0.78" stroke-width="1.25" stroke-linejoin="round"/>
<path d="M460.7,295.6 L465.4,295.3 L470.1,295.6 L472.9,297.9 L476.1,299.5 L479.6,300.4 L484.2,301.6 L489.0,301.3 L493.0,300.1 L496.6,298.0" fill="none" stroke="#ffffff" stroke-opacity="0.78" stroke-width="1.25" stroke-linejoin="round"/>
<path d="M455.0,301.3 L453.4,304.4 L453.1,307.9 L451.2,310.8 L448.3,313.5 L445.6,316.5 L441.4,315.9 L437.1,316.5 L438.2,319.9 L440.2,322.8 L441.8,325.9 L444.0,329.8 L446.5,333.5 L445.8,337.3 L444.6,341.0 L443.7,344.8 L442.9,348.4 L440.8,351.4" fill="none" stroke="#ffffff" stroke-opacity="0.78" stroke-width="1.25" stroke-linejoin="round"/>
<path d="M385.1,303.2 L386.8,307.1 L388.9,310.7 L390.7,314.6 L393.7,316.8 L397.4,317.7 L400.2,320.2 L401.1,323.6 L402.8,326.8 L403.6,330.2 L404.9,333.5 L407.7,335.9 L409.6,339.1 L410.6,344.8 L406.5,346.9 L402.1,348.6 L399.5,350.8 L396.4,352.4 L398.6,356.0 L399.9,360.1 L402.1,363.7 L402.6,368.4 L403.0,373.2 L400.0,376.2 L398.3,380.1 L395.0,382.8 L392.3,386.1 L388.8,388.6 L390.5,392.9 L392.6,397.1 L393.5,400.9 L394.5,404.7 L395.6,408.0 L395.5,411.5" fill="none" stroke="#ffffff" stroke-opacity="0.78" stroke-width="1.25" stroke-linejoin="round"/>
<path d="M388.8,285.2 L388.5,288.9 L387.5,292.4 L387.1,296.1 L386.0,299.6 L385.1,303.2" fill="none" stroke="#ffffff" stroke-opacity="0.78" stroke-width="1.25" stroke-linejoin="round"/>
<path d="M410.6,345.8 L414.1,346.4 L417.4,347.7 L421.0,347.7 L424.7,346.6 L428.5,346.7 L432.3,346.7 L435.6,350.2 L439.9,352.4 L443.7,351.7 L447.3,349.9 L451.2,349.5 L455.0,349.7 L458.7,351.1 L462.6,350.8 L466.4,351.4 L470.1,350.4 L474.0,351.6 L477.7,350.1 L481.5,350.5 L485.3,350.1 L489.1,349.4 L492.8,348.6 L496.0,349.8 L498.8,351.9 L502.3,352.4 L505.5,354.3 L507.9,357.1 L512.6,357.8 L517.4,358.1 L521.1,356.8 L525.1,357.6 L528.7,356.2" fill="none" stroke="#ffffff" stroke-opacity="0.78" stroke-width="1.25" stroke-linejoin="round"/>
<path d="M489.0,301.3 L488.8,305.1 L488.1,308.9 L491.6,310.4 L494.7,312.7 L496.2,317.3 L496.6,322.1 L495.6,325.8 L495.9,329.7 L495.7,333.5 L494.9,336.8 L494.7,340.1 L494.5,343.4 L493.8,346.7 L492.8,348.6" fill="none" stroke="#ffffff" stroke-opacity="0.78" stroke-width="1.25" stroke-linejoin="round"/>
<path d="M482.4,351.4 L484.4,355.0 L487.5,357.9 L489.0,361.8 L490.6,364.8 L492.0,368.0 L492.8,371.3 L494.7,374.5 L492.8,380.1 L489.0,383.9 L486.8,386.5 L485.3,389.6 L481.4,391.2 L477.4,392.7 L473.9,395.2 L470.4,397.4 L466.4,398.5 L462.6,400.0 L458.9,401.4 L455.1,401.7 L451.2,401.9 L447.5,401.4 L443.7,400.9 L438.0,403.4" fill="none" stroke="#ffffff" stroke-opacity="0.78" stroke-width="1.25" stroke-linejoin="round"/>
<path d="M403.0,366.9 L407.3,366.6 L411.5,367.8 L413.1,370.8 L415.3,373.5 L418.8,370.6 L422.9,368.8 L426.1,370.0 L429.1,371.6 L432.3,372.6 L436.1,373.4 L439.9,373.1 L443.7,373.5 L448.4,374.4 L453.1,375.4 L456.8,374.0 L460.7,374.0 L464.5,373.5 L468.3,374.9 L471.8,377.2 L475.8,378.2 L479.1,379.7 L482.2,381.4 L485.7,382.4 L489.0,383.9" fill="none" stroke="#ffffff" stroke-opacity="0.78" stroke-width="1.25" stroke-linejoin="round"/>
<path d="M335.0,379.2 L338.7,377.5 L342.6,376.1 L346.3,374.5 L346.2,379.3 L347.3,383.9 L351.3,385.3 L355.0,387.3 L358.6,389.6 L360.0,393.2 L360.5,397.0 L360.5,400.9 L359.3,405.1 L356.7,408.5 L360.1,409.5 L363.0,411.7 L366.2,413.2 L362.1,413.8 L358.6,416.0 L356.7,421.7 L357.1,425.5 L358.3,429.2 L359.0,433.0 L359.5,436.8" fill="none" stroke="#ffffff" stroke-opacity="0.78" stroke-width="1.25" stroke-linejoin="round"/>
<path d="M346.3,374.5 L349.6,372.9 L353.2,371.9 L356.7,370.7 L360.7,371.0 L364.3,372.6 L367.9,374.6 L371.6,376.4 L374.7,379.2 L374.5,383.2 L373.1,386.8 L371.8,390.5 L375.1,390.5 L378.2,391.5 L381.3,392.4 L385.2,390.9 L388.8,388.6" fill="none" stroke="#ffffff" stroke-opacity="0.78" stroke-width="1.25" stroke-linejoin="round"/>
<path d="M306.6,358.0 L306.1,361.5 L307.1,364.9 L306.9,368.3 L306.6,371.7 L307.8,375.1 L307.4,378.6 L307.6,382.0 L311.3,383.0 L315.2,381.5 L319.2,380.5 L322.7,378.2 L326.4,377.1 L330.2,376.9 L334.0,377.3" fill="none" stroke="#ffffff" stroke-opacity="0.78" stroke-width="1.25" stroke-linejoin="round"/>
<path d="M153.8,156.0 C153.3,159.2 150.6,168.9 151.2,175.0 C151.9,181.1 156.5,187.1 157.5,192.5 C158.5,197.9 159.2,202.9 157.5,207.5 C155.8,212.1 151.0,217.3 147.5,220.0 C144.0,222.7 139.2,220.4 136.2,223.8 C133.3,227.1 130.9,235.3 130.0,240.0 C129.1,244.7 130.2,248.3 131.0,252.0 C131.8,255.7 133.3,258.2 135.0,262.0 C136.7,265.8 140.4,270.8 141.2,275.0 C142.1,279.2 140.8,282.9 140.0,287.5 C139.2,292.1 136.7,297.1 136.2,302.5 C135.8,307.9 136.9,314.6 137.5,320.0 C138.1,325.4 140.4,330.0 140.0,335.0 C139.6,340.0 136.5,346.5 135.0,350.0 C133.5,353.5 131.7,355.0 131.0,356.0" fill="none" stroke="#1a0000" stroke-width="1.1"/>
<path d="M174.0,362.0 C174.5,361.5 175.2,359.9 176.8,358.8 C178.4,357.7 180.7,356.2 183.5,355.4 C186.3,354.5 189.9,354.8 193.6,353.7 C197.2,352.6 201.2,350.5 205.4,348.7 C209.6,346.9 215.1,344.2 218.8,342.8 C222.6,341.4 225.2,340.3 227.9,340.3 C230.6,340.3 232.6,341.1 235.0,343.0 C237.4,344.9 240.3,349.7 242.5,352.0 C244.7,354.3 245.4,356.1 248.0,356.9 C250.6,357.7 255.0,357.7 258.1,356.9 C261.2,356.1 264.0,354.0 266.5,351.9 C269.0,349.8 271.0,346.1 273.2,344.3 C275.4,342.5 277.6,341.4 279.9,341.0 C282.1,340.6 284.5,340.8 286.7,341.8 C288.9,342.8 290.9,344.8 293.0,347.0 C295.1,349.2 295.4,353.8 299.0,355.0 C302.6,356.2 310.3,354.2 314.4,354.4 C318.5,354.6 320.4,356.0 323.6,356.1 C326.8,356.2 330.1,356.0 333.7,355.3 C337.3,354.6 341.5,353.4 345.5,351.9 C349.5,350.3 353.8,348.3 357.9,346.0 C362.0,343.7 365.5,340.5 370.0,338.0 C374.5,335.5 380.8,332.8 385.0,331.0 C389.2,329.2 391.9,328.8 395.0,327.0 C398.1,325.2 401.0,321.9 403.5,320.0 C406.0,318.1 407.4,317.7 410.2,315.6 C413.0,313.5 417.2,310.6 420.3,307.2 C423.4,303.8 426.3,299.4 428.7,295.5 C431.1,291.6 433.2,287.6 434.6,283.7 C436.0,279.8 435.9,275.8 437.1,271.9 C438.4,268.0 440.2,263.3 442.1,260.2 C444.1,257.1 446.6,254.8 448.8,253.4 C451.0,252.1 453.0,252.4 455.2,252.1 C457.4,251.8 460.6,250.7 462.0,251.3 C463.4,251.9 462.8,255.4 463.6,255.5 C464.4,255.6 465.9,252.1 467.0,252.1 C468.1,252.1 469.0,255.5 470.4,255.5 C471.8,255.5 474.0,253.5 475.4,252.1 C476.8,250.7 477.2,249.1 478.8,247.1 C480.4,245.1 483.1,242.5 485.0,240.0 C486.9,237.5 487.8,236.2 490.0,232.0 C492.2,227.8 496.7,217.8 498.0,215.0" fill="none" stroke="#1a0000" stroke-width="1.1"/>
<path d="M229.0,96.0 C229.8,98.3 232.3,104.8 233.8,110.0 C235.2,115.2 236.7,121.7 237.5,127.5 C238.3,133.3 238.8,139.6 238.8,145.0 C238.8,150.4 238.1,154.6 237.5,160.0 C236.9,165.4 236.7,173.5 235.0,177.5 C233.3,181.5 230.4,183.3 227.5,183.8 C224.6,184.2 220.8,182.3 217.5,180.0 C214.2,177.7 211.2,172.1 207.5,170.0 C203.8,167.9 198.8,167.5 195.0,167.5 C191.2,167.5 187.5,167.9 185.0,170.0 C182.5,172.1 181.0,175.8 180.0,180.0 C179.0,184.2 179.2,190.0 178.8,195.0 C178.3,200.0 178.3,205.4 177.5,210.0 C176.7,214.6 175.0,218.3 173.8,222.5 C172.5,226.7 170.8,231.2 170.0,235.0 C169.2,238.8 168.1,241.2 168.8,245.0 C169.4,248.8 173.2,251.9 173.8,257.5 C174.3,263.1 172.6,272.5 172.0,278.8 C171.4,285.0 171.2,290.6 170.0,295.0 C168.8,299.4 167.5,302.5 165.0,305.0 C162.5,307.5 157.5,307.5 155.0,310.0 C152.5,312.5 151.0,316.7 150.0,320.0 C149.0,323.3 149.2,326.3 148.8,330.0 C148.2,333.7 146.8,338.3 147.0,342.0 C147.2,345.7 148.7,349.8 150.0,352.0 C151.3,354.2 152.5,354.9 155.0,355.0 C157.5,355.1 161.7,354.2 165.0,352.5 C168.3,350.8 171.7,347.1 175.0,345.0 C178.3,342.9 180.0,342.1 185.0,340.0 C190.0,337.9 198.3,334.6 205.0,332.5 C211.7,330.4 218.8,328.5 225.0,327.5 C231.2,326.5 236.7,326.0 242.5,326.2 C248.3,326.5 253.8,329.4 260.0,328.8 C266.2,328.1 272.5,324.0 280.0,322.5 C287.5,321.0 297.9,319.6 305.0,320.0 C312.1,320.4 316.0,323.1 322.5,325.0 C329.0,326.9 336.2,330.2 343.8,331.2 C351.2,332.3 360.6,332.3 367.5,331.2 C374.4,330.2 379.6,327.3 385.0,325.0 C390.4,322.7 395.5,320.8 400.0,317.5 C404.5,314.2 408.7,309.2 412.0,305.0 C415.3,300.8 417.8,297.5 420.0,292.5 C422.2,287.5 424.4,280.4 425.0,275.0 C425.6,269.6 424.2,263.8 423.8,260.0 C423.3,256.2 423.5,255.4 422.5,252.5 C421.5,249.6 419.0,246.7 417.5,242.5 C416.0,238.3 414.4,232.5 413.8,227.5 C413.1,222.5 414.4,217.9 413.8,212.5 C413.1,207.1 411.5,200.8 410.0,195.0 C408.5,189.2 406.7,183.3 405.0,177.5 C403.3,171.7 401.0,164.2 400.0,160.0 C399.0,155.8 399.2,156.7 398.8,152.5 C398.3,148.3 398.3,141.2 397.5,135.0 C396.7,128.8 395.6,122.0 393.8,115.0 C391.9,108.0 387.5,96.7 386.2,93.0" fill="none" stroke="#1a0000" stroke-width="1.1"/>
<path d="M262.0,104.0 C261.3,104.3 259.5,105.8 258.0,106.0 C256.5,106.2 254.7,104.3 253.0,105.0 C251.3,105.7 248.3,107.2 248.0,110.0 C247.7,112.8 249.3,117.8 251.0,122.0 C252.7,126.2 255.3,131.0 258.0,135.0 C260.7,139.0 263.3,143.7 267.0,146.0 C270.7,148.3 275.8,147.9 280.0,149.0 C284.2,150.1 288.5,150.3 292.0,152.5 C295.5,154.7 298.8,158.8 301.0,162.0 C303.2,165.2 303.5,168.2 305.0,172.0 C306.5,175.8 308.2,181.2 310.0,185.0 C311.8,188.8 314.0,191.2 316.0,195.0 C318.0,198.8 319.5,202.8 322.0,208.0 C324.5,213.2 327.5,220.5 331.0,226.0 C334.5,231.5 339.5,235.8 343.0,241.0 C346.5,246.2 349.2,252.7 352.0,257.0 C354.8,261.3 359.1,264.0 360.0,267.0 C360.9,270.0 360.8,273.7 357.5,275.0 C354.2,276.3 345.4,275.4 340.0,275.0 C334.6,274.6 330.0,272.7 325.0,272.5 C320.0,272.3 315.0,272.9 310.0,273.8 C305.0,274.6 299.6,275.6 295.0,277.5 C290.4,279.4 286.7,284.2 282.5,285.0 C278.3,285.8 273.8,284.0 270.0,282.5 C266.2,281.0 263.8,277.9 260.0,276.2 C256.2,274.6 251.2,272.9 247.5,272.5 C243.8,272.1 240.8,272.5 237.5,273.8 C234.2,275.0 230.8,277.3 227.5,280.0 C224.2,282.7 221.2,288.3 217.5,290.0 C213.8,291.7 209.6,291.2 205.0,290.0 C200.4,288.8 193.5,284.2 190.0,282.5 C186.5,280.8 185.4,278.8 183.8,280.0 C182.1,281.2 181.0,286.7 180.0,290.0 C179.0,293.3 178.4,296.2 178.0,300.0 C177.6,303.8 177.2,309.2 177.5,312.5 C177.8,315.8 177.9,317.1 180.0,320.0 C182.1,322.9 185.8,329.0 190.0,330.0 C194.2,331.0 200.0,327.7 205.0,326.0 C210.0,324.3 214.6,321.2 220.0,320.0 C225.4,318.8 231.7,318.8 237.5,318.8 C243.3,318.8 249.6,320.4 255.0,320.0 C260.4,319.6 265.2,318.4 270.0,316.2 C274.8,314.1 278.8,307.8 283.8,307.0 C288.8,306.2 296.5,310.3 300.0,311.2 C303.5,312.2 301.2,311.9 305.0,312.5 C308.8,313.1 316.7,314.2 322.5,315.0 C328.3,315.8 334.2,316.9 340.0,317.5 C345.8,318.1 351.7,319.2 357.5,318.8 C363.3,318.3 369.6,316.9 375.0,315.0 C380.4,313.1 385.4,310.2 390.0,307.5 C394.6,304.8 398.8,302.1 402.5,298.8 C406.2,295.4 410.2,291.5 412.5,287.5 C414.8,283.5 415.8,279.6 416.2,275.0 C416.7,270.4 416.0,263.8 415.0,260.0 C414.0,256.2 411.9,254.5 410.0,252.0 C408.1,249.5 404.8,248.1 403.5,245.0 C402.2,241.9 402.8,237.7 402.3,233.6 C401.8,229.5 401.2,224.5 400.6,220.2 C400.0,215.9 399.1,211.9 398.5,208.0 C397.9,204.1 398.2,201.7 397.0,196.7 C395.8,191.7 394.0,185.2 391.5,177.8 C389.0,170.5 384.2,158.9 382.0,152.6 C379.8,146.3 380.7,145.0 378.3,140.0 C375.9,135.0 371.0,129.2 367.5,122.5 C364.0,115.8 359.2,103.8 357.5,100.0" fill="none" stroke="#1a0000" stroke-width="1.1"/>
<path d="M282.5,103.0 C283.6,104.8 287.2,110.2 289.0,114.0 C290.8,117.8 291.7,122.0 293.0,126.0 C294.3,130.0 295.8,134.7 297.0,138.0 C298.2,141.3 298.7,143.2 300.0,146.0 C301.3,148.8 303.0,152.0 305.0,155.0 C307.0,158.0 310.0,161.2 312.0,164.0 C314.0,166.8 314.8,167.7 317.0,172.0 C319.2,176.3 322.7,185.3 325.0,190.0 C327.3,194.7 328.0,196.3 331.0,200.0 C334.0,203.7 339.3,207.8 343.0,212.0 C346.7,216.2 350.2,221.5 353.0,225.0 C355.8,228.5 357.6,230.9 360.0,233.0 C362.4,235.1 363.8,236.5 367.5,237.5 C371.2,238.5 378.8,239.6 382.5,238.8 C386.2,237.9 388.2,235.6 390.0,232.5 C391.8,229.4 392.6,223.8 393.0,220.0 C393.4,216.2 393.1,213.9 392.5,210.0 C391.9,206.1 391.8,202.1 389.6,196.7 C387.4,191.3 382.8,185.2 379.5,177.8 C376.2,170.5 372.6,158.9 370.1,152.6 C367.6,146.3 367.6,145.0 364.4,140.0 C361.2,135.0 354.6,128.3 351.0,122.5 C347.4,116.7 344.3,108.6 342.5,105.0 C340.7,101.4 340.8,101.7 340.4,101.0" fill="none" stroke="#1a0000" stroke-width="1.1"/>
<path d="M329.4,120.4 L332.9,122.2 L329.4,124.0Z" fill="#ffdc00" stroke="#1a0000" stroke-width="0.8"/>
<path d="M330.59999999999997,133.7 L334.09999999999997,135.5 L330.59999999999997,137.3Z" fill="#ffdc00" stroke="#1a0000" stroke-width="0.8"/>
<path d="M368.7,198.6 L372.2,200.4 L368.7,202.20000000000002Z" fill="#ffdc00" stroke="#1a0000" stroke-width="0.8"/>
<path d="M363,190.2 L366.4,189 L367.6,193.4 L364.4,194.8Z" fill="#ffdc00" stroke="#1a0000" stroke-width="0.8"/>
<circle cx="331" cy="141" r="0.9" fill="#1a0000"/>
<circle cx="315.5" cy="294.5" r="0.8" fill="#1a0000"/>
<g transform="translate(230.7,97.3) rotate(90)"><rect x="-12.8" y="-9.7" width="25.6" height="19.4" fill="#fff"/><text x="0" y="6.4" font-size="18" text-anchor="middle" fill="#000">20</text></g>
<g transform="translate(269.3,105.0) rotate(-90)"><rect x="-12.8" y="-9.7" width="25.6" height="19.4" fill="#fff"/><text x="0" y="6.4" font-size="18" text-anchor="middle" fill="#000">18</text></g>
<g transform="translate(268.8,146.3) rotate(12.5)"><rect x="-12.8" y="-9.7" width="25.6" height="19.4" fill="#fff"/><text x="0" y="6.4" font-size="18" text-anchor="middle" fill="#000">18</text></g>
<g transform="translate(316.5,172.7) rotate(61.5)"><rect x="-12.8" y="-9.7" width="25.6" height="19.4" fill="#fff"/><text x="0" y="6.4" font-size="18" text-anchor="middle" fill="#000">16</text></g>
<g transform="translate(392.2,210.5) rotate(73)"><rect x="-12.8" y="-9.7" width="25.6" height="19.4" fill="#fff"/><text x="0" y="6.4" font-size="18" text-anchor="middle" fill="#000">16</text></g>
<g transform="translate(189.4,191.9) rotate(-75.5)"><rect x="-12.8" y="-9.7" width="25.6" height="19.4" fill="#fff"/><text x="0" y="6.4" font-size="18" text-anchor="middle" fill="#000">18</text></g>
<g transform="translate(136.1,222.6) rotate(-46)"><rect x="-12.8" y="-9.7" width="25.6" height="19.4" fill="#fff"/><text x="0" y="6.4" font-size="18" text-anchor="middle" fill="#000">22</text></g>
<g transform="translate(294.5,228.2) rotate(-49)"><rect x="-12.8" y="-9.7" width="25.6" height="19.4" fill="#fff"/><text x="0" y="6.4" font-size="18" text-anchor="middle" fill="#000">20</text></g>
<g transform="translate(342.8,241.2) rotate(61.5)"><rect x="-12.8" y="-9.7" width="25.6" height="19.4" fill="#fff"/><text x="0" y="6.4" font-size="18" text-anchor="middle" fill="#000">18</text></g>
<g transform="translate(410.8,257.0) rotate(69.5)"><rect x="-12.8" y="-9.7" width="25.6" height="19.4" fill="#fff"/><text x="0" y="6.4" font-size="18" text-anchor="middle" fill="#000">18</text></g>
<g transform="translate(486.3,229.5) rotate(-58.4)"><rect x="-12.8" y="-9.7" width="25.6" height="19.4" fill="#fff"/><text x="0" y="6.4" font-size="18" text-anchor="middle" fill="#000">22</text></g>
<g transform="translate(169.2,279.8) rotate(-88)"><rect x="-12.8" y="-9.7" width="25.6" height="19.4" fill="#fff"/><text x="0" y="6.4" font-size="18" text-anchor="middle" fill="#000">20</text></g>
<g transform="translate(333.0,288.5) rotate(26.6)"><rect x="-12.8" y="-9.7" width="25.6" height="19.4" fill="#fff"/><text x="0" y="6.4" font-size="18" text-anchor="middle" fill="#000">16</text></g>
<g transform="translate(284.6,304.1) rotate(-14.5)"><rect x="-12.8" y="-9.7" width="25.6" height="19.4" fill="#fff"/><text x="0" y="6.4" font-size="18" text-anchor="middle" fill="#000">18</text></g>
<g transform="translate(409.3,303.9) rotate(-39.6)"><rect x="-12.8" y="-9.7" width="25.6" height="19.4" fill="#fff"/><text x="0" y="6.4" font-size="18" text-anchor="middle" fill="#000">20</text></g>
<g transform="translate(189.8,331.5) rotate(10)"><rect x="-12.8" y="-9.7" width="25.6" height="19.4" fill="#fff"/><text x="0" y="6.4" font-size="18" text-anchor="middle" fill="#000">18</text></g>
<g transform="translate(343.5,331.5) rotate(-5)"><rect x="-12.8" y="-9.7" width="25.6" height="19.4" fill="#fff"/><text x="0" y="6.4" font-size="18" text-anchor="middle" fill="#000">20</text></g>
<g transform="translate(147.4,341.6) rotate(80)"><rect x="-12.8" y="-9.7" width="25.6" height="19.4" fill="#fff"/><text x="0" y="6.4" font-size="18" text-anchor="middle" fill="#000">20</text></g>
<g transform="translate(298.8,355.3) rotate(19)"><rect x="-12.8" y="-9.7" width="25.6" height="19.4" fill="#fff"/><text x="0" y="6.4" font-size="18" text-anchor="middle" fill="#000">22</text></g>
<g transform="translate(536.5,358.5) rotate(-55)"><rect x="-12.8" y="-9.7" width="25.6" height="19.4" fill="#fff"/><text x="0" y="6.4" font-size="18" text-anchor="middle" fill="#000">22</text></g>
</g>
<path d="M207.8,96.3 L209.7,95.0 L218.5,95.7 L224.2,87.5 L233.7,93.8 L241.9,98.2 L243.1,96.0 L251.3,97.6 L263.0,100.0 L270.0,101.2 L281.2,104.5 L290.0,101.2 L295.0,101.2 L300.0,102.0 L305.0,108.8 L309.5,111.5 L316.0,116.5 L320.8,119.6 L328.4,116.2 L335.9,105.8 L347.3,102.0 L366.2,100.1 L379.4,99.2 L388.8,94.5 L392.6,85.0 L396.0,80.5 L407.5,77.0 L415.0,77.0 L425.0,83.8 L433.8,95.0 L440.0,107.5 L446.2,122.5 L455.0,136.2 L465.0,150.0 L475.0,162.5 L488.8,177.5 L495.0,195.0 L497.5,212.5 L496.2,230.0 L491.2,250.0 L492.5,260.0 L495.0,275.0 L497.5,290.0 L502.5,300.0 L507.5,307.5 L517.5,313.8 L527.5,315.0 L534.3,310.0 L544.7,305.5 L556.0,299.0 L563.6,298.0 L573.0,299.8 L578.7,306.5 L579.7,311.0 L580.6,317.8 L579.7,329.0 L578.4,338.6 L575.9,343.3 L563.6,347.0 L553.2,350.0 L550.4,346.0 L546.6,340.5 L548.5,335.8 L545.7,333.3 L541.0,333.0 L536.2,336.7 L538.0,342.4 L544.7,343.3 L548.0,347.0 L546.0,351.0 L542.8,353.7 L535.3,355.6 L531.5,352.0 L530.0,354.0 L531.5,359.4 L531.0,365.0 L532.5,372.5 L527.5,380.0 L523.8,390.0 L526.2,407.5 L523.8,420.0 L521.2,432.0 L507.9,431.2 L496.6,428.3 L490.9,423.6 L485.3,411.9 L481.5,415.1 L474.9,415.1 L471.1,408.5 L466.4,411.3 L458.8,411.3 L447.4,405.6 L438.0,403.4 L428.5,404.7 L413.4,409.4 L398.3,412.3 L385.1,416.0 L379.4,421.7 L369.9,431.2 L358.6,438.7 L345.4,441.6 L333.0,438.0 L325.1,437.3 L318.8,435.4 L311.2,436.7 L302.4,435.4 L296.1,432.9 L289.8,434.8 L282.2,438.6 L273.4,438.0 L263.3,434.2 L253.2,430.4 L245.7,429.1 L238.1,426.0 L230.5,424.7 L223.0,426.0 L214.8,428.5 L206.6,427.2 L200.9,422.8 L202.8,415.3 L210.4,412.1 L211.0,407.7 L200.3,401.4 L190.2,397.0 L192.1,395.7 L192.1,390.7 L186.4,389.4 L183.2,383.3 L185.1,376.7 L181.3,375.8 L190.7,372.9 L197.4,370.1 L192.6,365.4 L178.4,358.8 L169.9,365.4 L162.4,374.8 L154.8,363.5 L134.0,359.7 L133.1,354.0 L121.7,348.4 L119.8,343.6 L130.2,338.9 L120.8,332.3 L122.7,325.7 L129.7,320.1 L121.2,314.4 L109.8,308.7 L98.5,301.2 L90.0,293.6 L91.9,291.7 L89.0,284.1 L90.0,272.8 L83.4,268.1 L75.8,259.6 L68.2,252.0 L63.5,243.0 L65.0,241.2 L76.2,238.8 L88.8,238.8 L92.5,232.5 L105.0,233.8 L113.8,227.5 L118.8,220.0 L122.5,207.5 L131.2,197.5 L132.5,192.5 L140.0,177.5 L148.0,163.8 L155.0,152.5 L159.3,145.0 L161.2,141.7 L159.9,138.0 L161.8,134.2 L170.0,128.5 L173.1,121.6 L178.8,115.3 L183.2,115.9 L184.5,112.1 L188.3,112.1 L194.6,114.6 L200.9,109.0 L207.2,101.4Z" fill="none" stroke="#111" stroke-width="1.2" stroke-linejoin="round"/>
<path d="M77.5,57.5 L82.5,52.5" fill="none" stroke="#111" stroke-width="1.2" stroke-linejoin="round" stroke-linecap="round"/>
<path d="M40.5,76.0 L47.5,78.8" fill="none" stroke="#111" stroke-width="1.2" stroke-linejoin="round" stroke-linecap="round"/>
<path d="M107.5,52.5 L120.0,55.0 L137.5,55.0 L146.2,66.2 L168.8,62.5 L171.2,52.5" fill="none" stroke="#111" stroke-width="1.2" stroke-linejoin="round" stroke-linecap="round"/>
<path d="M168.8,62.5 L180.0,76.2 L190.0,77.5 L193.3,87.5 L204.7,88.2 L207.8,92.6 L207.8,96.3" fill="none" stroke="#111" stroke-width="1.2" stroke-linejoin="round" stroke-linecap="round"/>
<path d="M65.0,241.2 L47.5,238.8 L40.5,240.0" fill="none" stroke="#111" stroke-width="1.2" stroke-linejoin="round" stroke-linecap="round"/>
<path d="M190.2,397.0 L188.9,408.3 L177.6,412.1 L175.0,417.8 L173.8,426.6 L177.6,436.7 L181.3,445.0 L183.8,452.8" fill="none" stroke="#111" stroke-width="1.2" stroke-linejoin="round" stroke-linecap="round"/>
<path d="M522.1,432.1 L523.1,440.6 L524.0,448.2 L523.0,452.8" fill="none" stroke="#111" stroke-width="1.2" stroke-linejoin="round" stroke-linecap="round"/>
<path d="M407.5,77.0 L412.5,70.0 L418.8,70.0 L415.0,64.5 L430.0,63.0 L445.0,62.0 L460.0,58.0 L470.0,61.2 L480.0,68.8 L492.5,77.5 L505.0,82.5 L506.2,90.0 L511.2,81.2 L526.2,83.8 L527.5,90.0 L532.5,96.2 L545.0,95.0 L547.5,103.8 L551.2,105.0 L547.5,110.0 L548.8,120.0 L543.8,131.2 L555.0,138.8 L560.0,147.5 L563.8,143.8 L568.8,143.8 L568.8,163.8 L570.0,165.0 L577.5,180.0 L588.8,186.2 L592.5,195.0 L590.0,210.0 L603.5,218.0" fill="none" stroke="#111" stroke-width="1.2" stroke-linejoin="round" stroke-linecap="round"/>
<path d="M603.5,219.0 L588.8,225.0 L580.0,218.8 L576.2,225.0 L571.2,225.0 L570.0,218.8 L563.8,217.5 L560.0,213.8 L555.0,220.0 L552.5,220.0 L551.2,210.0 L537.5,218.8 L540.0,227.5 L538.8,232.5 L542.5,238.8 L537.5,247.5 L540.0,255.0 L527.5,257.0 L525.0,270.0 L517.5,273.8 L513.8,282.5 L516.2,288.8 L512.5,293.8 L497.5,290.0" fill="none" stroke="#111" stroke-width="1.2" stroke-linejoin="round" stroke-linecap="round"/>
<path d="M603.5,264.0 L592.5,270.0 L586.2,277.5 L578.8,268.8 L576.2,277.5 L577.8,289.5 L583.5,294.0 L585.4,299.0 L582.5,304.6 L579.7,311.0" fill="none" stroke="#111" stroke-width="1.2" stroke-linejoin="round" stroke-linecap="round"/>
</g>
<rect x="40.8" y="52.6" width="562.8000000000001" height="400.2" fill="none" stroke="#505050" stroke-width="1.25"/>
<line x1="34.8" y1="92.4" x2="40.8" y2="92.4" stroke="#222" stroke-width="1"/>
<text x="28.4" y="97.10000000000001" font-size="12.3" text-anchor="end" fill="#000">48°N</text>
<line x1="34.8" y1="172.4" x2="40.8" y2="172.4" stroke="#222" stroke-width="1"/>
<text x="28.4" y="177.1" font-size="12.3" text-anchor="end" fill="#000">47°N</text>
<line x1="34.8" y1="251.6" x2="40.8" y2="251.6" stroke="#222" stroke-width="1"/>
<text x="28.4" y="256.3" font-size="12.3" text-anchor="end" fill="#000">46°N</text>
<line x1="34.8" y1="329.8" x2="40.8" y2="329.8" stroke="#222" stroke-width="1"/>
<text x="28.4" y="334.5" font-size="12.3" text-anchor="end" fill="#000">45°N</text>
<line x1="34.8" y1="408.9" x2="40.8" y2="408.9" stroke="#222" stroke-width="1"/>
<text x="28.4" y="413.59999999999997" font-size="12.3" text-anchor="end" fill="#000">44°N</text>
<line x1="153.2" y1="452.8" x2="153.2" y2="458.0" stroke="#222" stroke-width="1"/>
<text x="153.2" y="474.6" font-size="12.2" text-anchor="middle" fill="#000">22°E</text>
<line x1="265.7" y1="452.8" x2="265.7" y2="458.0" stroke="#222" stroke-width="1"/>
<text x="265.7" y="474.6" font-size="12.2" text-anchor="middle" fill="#000">24°E</text>
<line x1="378.4" y1="452.8" x2="378.4" y2="458.0" stroke="#222" stroke-width="1"/>
<text x="378.4" y="474.6" font-size="12.2" text-anchor="middle" fill="#000">26°E</text>
<line x1="490.6" y1="452.8" x2="490.6" y2="458.0" stroke="#222" stroke-width="1"/>
<text x="490.6" y="474.6" font-size="12.2" text-anchor="middle" fill="#000">28°E</text>
<text class="ser" x="76.6" y="69.3" font-size="9.6" text-anchor="middle" fill="#333" textLength="34" lengthAdjust="spacingAndGlyphs">METEO</text>
<rect x="50.3" y="75.5" width="52.6" height="35.8" rx="3.2" fill="#0505e8"/>
<path fill-rule="evenodd" fill="#ffee11" d="M53.6,91 a22.7,13 0 1,0 45.4,0 a22.7,13 0 1,0 -45.4,0 Z M59.5,91.6 a18.3,11.6 0 1,0 36.6,0 a18.3,11.6 0 1,0 -36.6,0 Z"/>
<path fill="#0505e8" d="M66,103 L87,103 L87,106 L66,106Z"/>
<path fill="#ffee11" d="M53.8,108.4 Q58,104.6 66,104.6 L73,104.4 L76.3,106.5 L79.6,104.4 L87,104.6 Q95,104.6 99.2,108.4 Z"/>
<ellipse cx="76.3" cy="97.9" rx="5.5" ry="5.9" fill="#ffee11"/>
<path fill="#333" d="M74.8,104.2 L77.8,104.2 L76.3,107.2Z"/>
<text class="ser" x="76.2" y="124.8" font-size="9.6" text-anchor="middle" fill="#333" textLength="47" lengthAdjust="spacingAndGlyphs">ROMANIA</text>
<path fill="#1c10a8" d="M555.8,429 L573.8,431.9 L574.3,440.7 L555.8,440.7Z"/>
<path fill="none" stroke="#fff" stroke-width="1.1" d="M562.6,429.2 Q571.5,432.8 574.6,440.2"/>
<text x="577.1" y="449" font-size="6.3" font-weight="bold" text-anchor="middle" fill="#1c10a8" textLength="16.4" lengthAdjust="spacingAndGlyphs">NCAR</text>
</g>
<text x="322.3" y="13.9" font-size="16" font-weight="bold" text-anchor="middle" fill="#000" textLength="564.5" lengthAdjust="spacingAndGlyphs">Abaterea temperaturii medii a aerului in perioada 15/08/2022 - 22/08/2022</text>
<text x="302.2" y="32.3" font-size="16" font-weight="bold" text-anchor="middle" fill="#000" textLength="289.6" lengthAdjust="spacingAndGlyphs">fata de media multianuala(2002-2021)</text>
<text x="40.6" y="46.3" font-size="12.2" fill="#000">Baza: 28.07.2022</text>
<text x="601.5" y="46.3" font-size="12.2" text-anchor="end" fill="#000">Unitati: °C</text>
<circle cx="61.3" cy="445" r="5.1" fill="none" stroke="#4a4a4a" stroke-width="0.8"/>
<text x="61.3" y="447.7" font-size="7.6" text-anchor="middle" fill="#444">C</text>
<text x="70.7" y="448.5" font-size="9.4" fill="#3c3c3c">Meteo Romania</text>
<text x="261" y="450" font-size="7.5" fill="#444">Created: Fri Jul 29 06:00:30 EEST 2022</text>
<text x="972.5" y="13.8" font-size="16" font-weight="bold" text-anchor="middle" fill="#000" textLength="365" lengthAdjust="spacingAndGlyphs">Media multianuala a temperaturii aerului la 2 m</text>
<text x="972.5" y="32.4" font-size="16" font-weight="bold" text-anchor="middle" fill="#000" textLength="292" lengthAdjust="spacingAndGlyphs">in perioada 15/08 - 22/08 (2002 - 2021)</text>
<text x="1255.5" y="46.3" font-size="12.2" text-anchor="end" fill="#000">Unitati:°C</text>
<circle cx="713" cy="438.1" r="5.1" fill="none" stroke="#4a4a4a" stroke-width="0.8"/>
<text x="713" y="440.8" font-size="7.6" text-anchor="middle" fill="#444">C</text>
<text x="722.7" y="441.5" font-size="9.4" fill="#3c3c3c">Meteo Romania</text>
<text x="913" y="450" font-size="7.5" fill="#c8b8b8">Created: Thu Jan 20 20:00:07 EET 2022</text>
<rect x="610.2" y="56.85" width="18.2" height="12.95" fill="#67001f"/>
<rect x="610.2" y="69.50" width="18.2" height="12.95" fill="#8e0027"/>
<rect x="610.2" y="82.15" width="18.2" height="12.95" fill="#a90026"/>
<rect x="610.2" y="94.80" width="18.2" height="12.95" fill="#c4001f"/>
<rect x="610.2" y="107.45" width="18.2" height="12.95" fill="#e10016"/>
<rect x="610.2" y="120.10" width="18.2" height="12.95" fill="#ff0000"/>
<rect x="610.2" y="132.75" width="18.2" height="12.95" fill="#ff391c"/>
<rect x="610.2" y="145.40" width="18.2" height="12.95" fill="#ff5b37"/>
<rect x="610.2" y="158.05" width="18.2" height="12.95" fill="#ff7a52"/>
<rect x="610.2" y="170.70" width="18.2" height="12.95" fill="#ff956c"/>
<rect x="610.2" y="183.35" width="18.2" height="12.95" fill="#ffac85"/>
<rect x="610.2" y="196.00" width="18.2" height="12.95" fill="#ffc29d"/>
<rect x="610.2" y="208.65" width="18.2" height="12.95" fill="#ffd7b7"/>
<rect x="610.2" y="221.30" width="18.2" height="12.95" fill="#ffe9d4"/>
<rect x="610.2" y="233.95" width="18.2" height="12.95" fill="#fff5e9"/>
<rect x="610.2" y="246.60" width="18.2" height="12.95" fill="#ffffff"/>
<rect x="610.2" y="259.25" width="18.2" height="12.95" fill="#e3f0ff"/>
<rect x="610.2" y="271.90" width="18.2" height="12.95" fill="#cbe2ff"/>
<rect x="610.2" y="284.55" width="18.2" height="12.95" fill="#b3d1ff"/>
<rect x="610.2" y="297.20" width="18.2" height="12.95" fill="#99bbff"/>
<rect x="610.2" y="309.85" width="18.2" height="12.95" fill="#809fff"/>
<rect x="610.2" y="322.50" width="18.2" height="12.95" fill="#6684ff"/>
<rect x="610.2" y="335.15" width="18.2" height="12.95" fill="#4d68ff"/>
<rect x="610.2" y="347.80" width="18.2" height="12.95" fill="#334dff"/>
<rect x="610.2" y="360.45" width="18.2" height="12.95" fill="#1a33ff"/>
<rect x="610.2" y="373.10" width="18.2" height="12.95" fill="#0000ff"/>
<rect x="610.2" y="385.75" width="18.2" height="12.95" fill="#0d00e6"/>
<rect x="610.2" y="398.40" width="18.2" height="12.95" fill="#1700cc"/>
<rect x="610.2" y="411.05" width="18.2" height="12.95" fill="#1f00b3"/>
<rect x="610.2" y="423.70" width="18.2" height="12.95" fill="#250099"/>
<rect x="610.2" y="436.35" width="18.2" height="12.95" fill="#2a007f"/>
<line x1="610.2" y1="69.50" x2="628.4000000000001" y2="69.50" stroke="#000" stroke-opacity="0.55" stroke-width="0.8"/>
<line x1="610.2" y1="82.15" x2="628.4000000000001" y2="82.15" stroke="#000" stroke-opacity="0.55" stroke-width="0.8"/>
<line x1="610.2" y1="94.80" x2="628.4000000000001" y2="94.80" stroke="#000" stroke-opacity="0.55" stroke-width="0.8"/>
<line x1="610.2" y1="107.45" x2="628.4000000000001" y2="107.45" stroke="#000" stroke-opacity="0.55" stroke-width="0.8"/>
<line x1="610.2" y1="120.10" x2="628.4000000000001" y2="120.10" stroke="#000" stroke-opacity="0.55" stroke-width="0.8"/>
<line x1="610.2" y1="132.75" x2="628.4000000000001" y2="132.75" stroke="#000" stroke-opacity="0.55" stroke-width="0.8"/>
<line x1="610.2" y1="145.40" x2="628.4000000000001" y2="145.40" stroke="#000" stroke-opacity="0.55" stroke-width="0.8"/>
<line x1="610.2" y1="158.05" x2="628.4000000000001" y2="158.05" stroke="#000" stroke-opacity="0.55" stroke-width="0.8"/>
<line x1="610.2" y1="170.70" x2="628.4000000000001" y2="170.70" stroke="#000" stroke-opacity="0.55" stroke-width="0.8"/>
<line x1="610.2" y1="183.35" x2="628.4000000000001" y2="183.35" stroke="#000" stroke-opacity="0.55" stroke-width="0.8"/>
<line x1="610.2" y1="196.00" x2="628.4000000000001" y2="196.00" stroke="#000" stroke-opacity="0.55" stroke-width="0.8"/>
<line x1="610.2" y1="208.65" x2="628.4000000000001" y2="208.65" stroke="#000" stroke-opacity="0.55" stroke-width="0.8"/>
<line x1="610.2" y1="221.30" x2="628.4000000000001" y2="221.30" stroke="#000" stroke-opacity="0.55" stroke-width="0.8"/>
<line x1="610.2" y1="233.95" x2="628.4000000000001" y2="233.95" stroke="#000" stroke-opacity="0.55" stroke-width="0.8"/>
<line x1="610.2" y1="246.60" x2="628.4000000000001" y2="246.60" stroke="#000" stroke-opacity="0.55" stroke-width="0.8"/>
<line x1="610.2" y1="259.25" x2="628.4000000000001" y2="259.25" stroke="#000" stroke-opacity="0.55" stroke-width="0.8"/>
<line x1="610.2" y1="271.90" x2="628.4000000000001" y2="271.90" stroke="#000" stroke-opacity="0.55" stroke-width="0.8"/>
<line x1="610.2" y1="284.55" x2="628.4000000000001" y2="284.55" stroke="#000" stroke-opacity="0.55" stroke-width="0.8"/>
<line x1="610.2" y1="297.20" x2="628.4000000000001" y2="297.20" stroke="#000" stroke-opacity="0.55" stroke-width="0.8"/>
<line x1="610.2" y1="309.85" x2="628.4000000000001" y2="309.85" stroke="#000" stroke-opacity="0.55" stroke-width="0.8"/>
<line x1="610.2" y1="322.50" x2="628.4000000000001" y2="322.50" stroke="#000" stroke-opacity="0.55" stroke-width="0.8"/>
<line x1="610.2" y1="335.15" x2="628.4000000000001" y2="335.15" stroke="#000" stroke-opacity="0.55" stroke-width="0.8"/>
<line x1="610.2" y1="347.80" x2="628.4000000000001" y2="347.80" stroke="#000" stroke-opacity="0.55" stroke-width="0.8"/>
<line x1="610.2" y1="360.45" x2="628.4000000000001" y2="360.45" stroke="#000" stroke-opacity="0.55" stroke-width="0.8"/>
<line x1="610.2" y1="373.10" x2="628.4000000000001" y2="373.10" stroke="#000" stroke-opacity="0.55" stroke-width="0.8"/>
<line x1="610.2" y1="385.75" x2="628.4000000000001" y2="385.75" stroke="#000" stroke-opacity="0.55" stroke-width="0.8"/>
<line x1="610.2" y1="398.40" x2="628.4000000000001" y2="398.40" stroke="#000" stroke-opacity="0.55" stroke-width="0.8"/>
<line x1="610.2" y1="411.05" x2="628.4000000000001" y2="411.05" stroke="#000" stroke-opacity="0.55" stroke-width="0.8"/>
<line x1="610.2" y1="423.70" x2="628.4000000000001" y2="423.70" stroke="#000" stroke-opacity="0.55" stroke-width="0.8"/>
<line x1="610.2" y1="436.35" x2="628.4000000000001" y2="436.35" stroke="#000" stroke-opacity="0.55" stroke-width="0.8"/>
<text x="650.6" y="72.70" font-size="9" text-anchor="end" fill="#000">9.0</text>
<text x="650.6" y="85.35" font-size="9" text-anchor="end" fill="#000">8.0</text>
<text x="650.6" y="98.00" font-size="9" text-anchor="end" fill="#000">7.0</text>
<text x="650.6" y="110.65" font-size="9" text-anchor="end" fill="#000">6.0</text>
<text x="650.6" y="123.30" font-size="9" text-anchor="end" fill="#000">5.5</text>
<text x="650.6" y="135.95" font-size="9" text-anchor="end" fill="#000">5.0</text>
<text x="650.6" y="148.60" font-size="9" text-anchor="end" fill="#000">4.5</text>
<text x="650.6" y="161.25" font-size="9" text-anchor="end" fill="#000">4.0</text>
<text x="650.6" y="173.90" font-size="9" text-anchor="end" fill="#000">3.5</text>
<text x="650.6" y="186.55" font-size="9" text-anchor="end" fill="#000">3.0</text>
<text x="650.6" y="199.20" font-size="9" text-anchor="end" fill="#000">2.5</text>
<text x="650.6" y="211.85" font-size="9" text-anchor="end" fill="#000">2.0</text>
<text x="650.6" y="224.50" font-size="9" text-anchor="end" fill="#000">1.5</text>
<text x="650.6" y="237.15" font-size="9" text-anchor="end" fill="#000">1.0</text>
<text x="650.6" y="249.80" font-size="9" text-anchor="end" fill="#000">0.5</text>
<text x="650.6" y="262.45" font-size="9" text-anchor="end" fill="#000">-0.5</text>
<text x="650.6" y="275.10" font-size="9" text-anchor="end" fill="#000">-1.0</text>
<text x="650.6" y="287.75" font-size="9" text-anchor="end" fill="#000">-1.5</text>
<text x="650.6" y="300.40" font-size="9" text-anchor="end" fill="#000">-2.0</text>
<text x="650.6" y="313.05" font-size="9" text-anchor="end" fill="#000">-2.5</text>
<text x="650.6" y="325.70" font-size="9" text-anchor="end" fill="#000">-3.0</text>
<text x="650.6" y="338.35" font-size="9" text-anchor="end" fill="#000">-3.5</text>
<text x="650.6" y="351.00" font-size="9" text-anchor="end" fill="#000">-4.0</text>
<text x="650.6" y="363.65" font-size="9" text-anchor="end" fill="#000">-4.5</text>
<text x="650.6" y="376.30" font-size="9" text-anchor="end" fill="#000">-5.0</text>
<text x="650.6" y="388.95" font-size="9" text-anchor="end" fill="#000">-5.5</text>
<text x="650.6" y="401.60" font-size="9" text-anchor="end" fill="#000">-6.0</text>
<text x="650.6" y="414.25" font-size="9" text-anchor="end" fill="#000">-7.0</text>
<text x="650.6" y="426.90" font-size="9" text-anchor="end" fill="#000">-8.0</text>
<text x="650.6" y="439.55" font-size="9" text-anchor="end" fill="#000">-9.0</text>
<rect x="1263" y="56.80" width="18.5" height="22.08" fill="#8b0000"/>
<rect x="1263" y="78.58" width="18.5" height="22.08" fill="#cd0000"/>
<rect x="1263" y="100.36" width="18.5" height="22.08" fill="#ff1400"/>
<rect x="1263" y="122.14" width="18.5" height="22.08" fill="#ff4800"/>
<rect x="1263" y="143.92" width="18.5" height="22.08" fill="#ff7f00"/>
<rect x="1263" y="165.70" width="18.5" height="22.08" fill="#ffa800"/>
<rect x="1263" y="187.48" width="18.5" height="22.08" fill="#ffe000"/>
<rect x="1263" y="209.26" width="18.5" height="22.08" fill="#e6ff1a"/>
<rect x="1263" y="231.04" width="18.5" height="22.08" fill="#b3ff4d"/>
<rect x="1263" y="252.82" width="18.5" height="22.08" fill="#80ff80"/>
<rect x="1263" y="274.60" width="18.5" height="22.08" fill="#4dffb3"/>
<rect x="1263" y="296.38" width="18.5" height="22.08" fill="#26f5d0"/>
<rect x="1263" y="318.16" width="18.5" height="22.08" fill="#0de4ec"/>
<rect x="1263" y="339.94" width="18.5" height="22.08" fill="#00b2ff"/>
<rect x="1263" y="361.72" width="18.5" height="22.08" fill="#0084ff"/>
<rect x="1263" y="383.50" width="18.5" height="22.08" fill="#0054ff"/>
<rect x="1263" y="405.28" width="18.5" height="22.08" fill="#0026ff"/>
<rect x="1263" y="427.06" width="18.5" height="22.08" fill="#0000f0"/>
<line x1="1263" y1="78.58" x2="1281.5" y2="78.58" stroke="#000" stroke-opacity="0.6" stroke-width="0.8"/>
<line x1="1263" y1="100.36" x2="1281.5" y2="100.36" stroke="#000" stroke-opacity="0.6" stroke-width="0.8"/>
<line x1="1263" y1="122.14" x2="1281.5" y2="122.14" stroke="#000" stroke-opacity="0.6" stroke-width="0.8"/>
<line x1="1263" y1="143.92" x2="1281.5" y2="143.92" stroke="#000" stroke-opacity="0.6" stroke-width="0.8"/>
<line x1="1263" y1="165.70" x2="1281.5" y2="165.70" stroke="#000" stroke-opacity="0.6" stroke-width="0.8"/>
<line x1="1263" y1="187.48" x2="1281.5" y2="187.48" stroke="#000" stroke-opacity="0.6" stroke-width="0.8"/>
<line x1="1263" y1="209.26" x2="1281.5" y2="209.26" stroke="#000" stroke-opacity="0.6" stroke-width="0.8"/>
<line x1="1263" y1="231.04" x2="1281.5" y2="231.04" stroke="#000" stroke-opacity="0.6" stroke-width="0.8"/>
<line x1="1263" y1="252.82" x2="1281.5" y2="252.82" stroke="#000" stroke-opacity="0.6" stroke-width="0.8"/>
<line x1="1263" y1="274.60" x2="1281.5" y2="274.60" stroke="#000" stroke-opacity="0.6" stroke-width="0.8"/>
<line x1="1263" y1="296.38" x2="1281.5" y2="296.38" stroke="#000" stroke-opacity="0.6" stroke-width="0.8"/>
<line x1="1263" y1="318.16" x2="1281.5" y2="318.16" stroke="#000" stroke-opacity="0.6" stroke-width="0.8"/>
<line x1="1263" y1="339.94" x2="1281.5" y2="339.94" stroke="#000" stroke-opacity="0.6" stroke-width="0.8"/>
<line x1="1263" y1="361.72" x2="1281.5" y2="361.72" stroke="#000" stroke-opacity="0.6" stroke-width="0.8"/>
<line x1="1263" y1="383.50" x2="1281.5" y2="383.50" stroke="#000" stroke-opacity="0.6" stroke-width="0.8"/>
<line x1="1263" y1="405.28" x2="1281.5" y2="405.28" stroke="#000" stroke-opacity="0.6" stroke-width="0.8"/>
<line x1="1263" y1="427.06" x2="1281.5" y2="427.06" stroke="#000" stroke-opacity="0.6" stroke-width="0.8"/>
<text x="1300" y="83.18" font-size="13" text-anchor="end" fill="#000">24</text>
<text x="1300" y="104.96" font-size="13" text-anchor="end" fill="#000">22</text>
<text x="1300" y="126.74" font-size="13" text-anchor="end" fill="#000">20</text>
<text x="1300" y="148.52" font-size="13" text-anchor="end" fill="#000">18</text>
<text x="1300" y="170.30" font-size="13" text-anchor="end" fill="#000">16</text>
<text x="1300" y="192.08" font-size="13" text-anchor="end" fill="#000">14</text>
<text x="1300" y="213.86" font-size="13" text-anchor="end" fill="#000">12</text>
<text x="1300" y="235.64" font-size="13" text-anchor="end" fill="#000">10</text>
<text x="1300" y="257.42" font-size="13" text-anchor="end" fill="#000">8</text>
<text x="1300" y="279.20" font-size="13" text-anchor="end" fill="#000">6</text>
<text x="1300" y="300.98" font-size="13" text-anchor="end" fill="#000">4</text>
<text x="1300" y="322.76" font-size="13" text-anchor="end" fill="#000">2</text>
<text x="1300" y="344.54" font-size="13" text-anchor="end" fill="#000">0</text>
<text x="1300" y="366.32" font-size="13" text-anchor="end" fill="#000">-2</text>
<text x="1300" y="388.10" font-size="13" text-anchor="end" fill="#000">-4</text>
<text x="1300" y="409.88" font-size="13" text-anchor="end" fill="#000">-6</text>
<text x="1300" y="431.66" font-size="13" text-anchor="end" fill="#000">-8</text>
</svg></body></html>
